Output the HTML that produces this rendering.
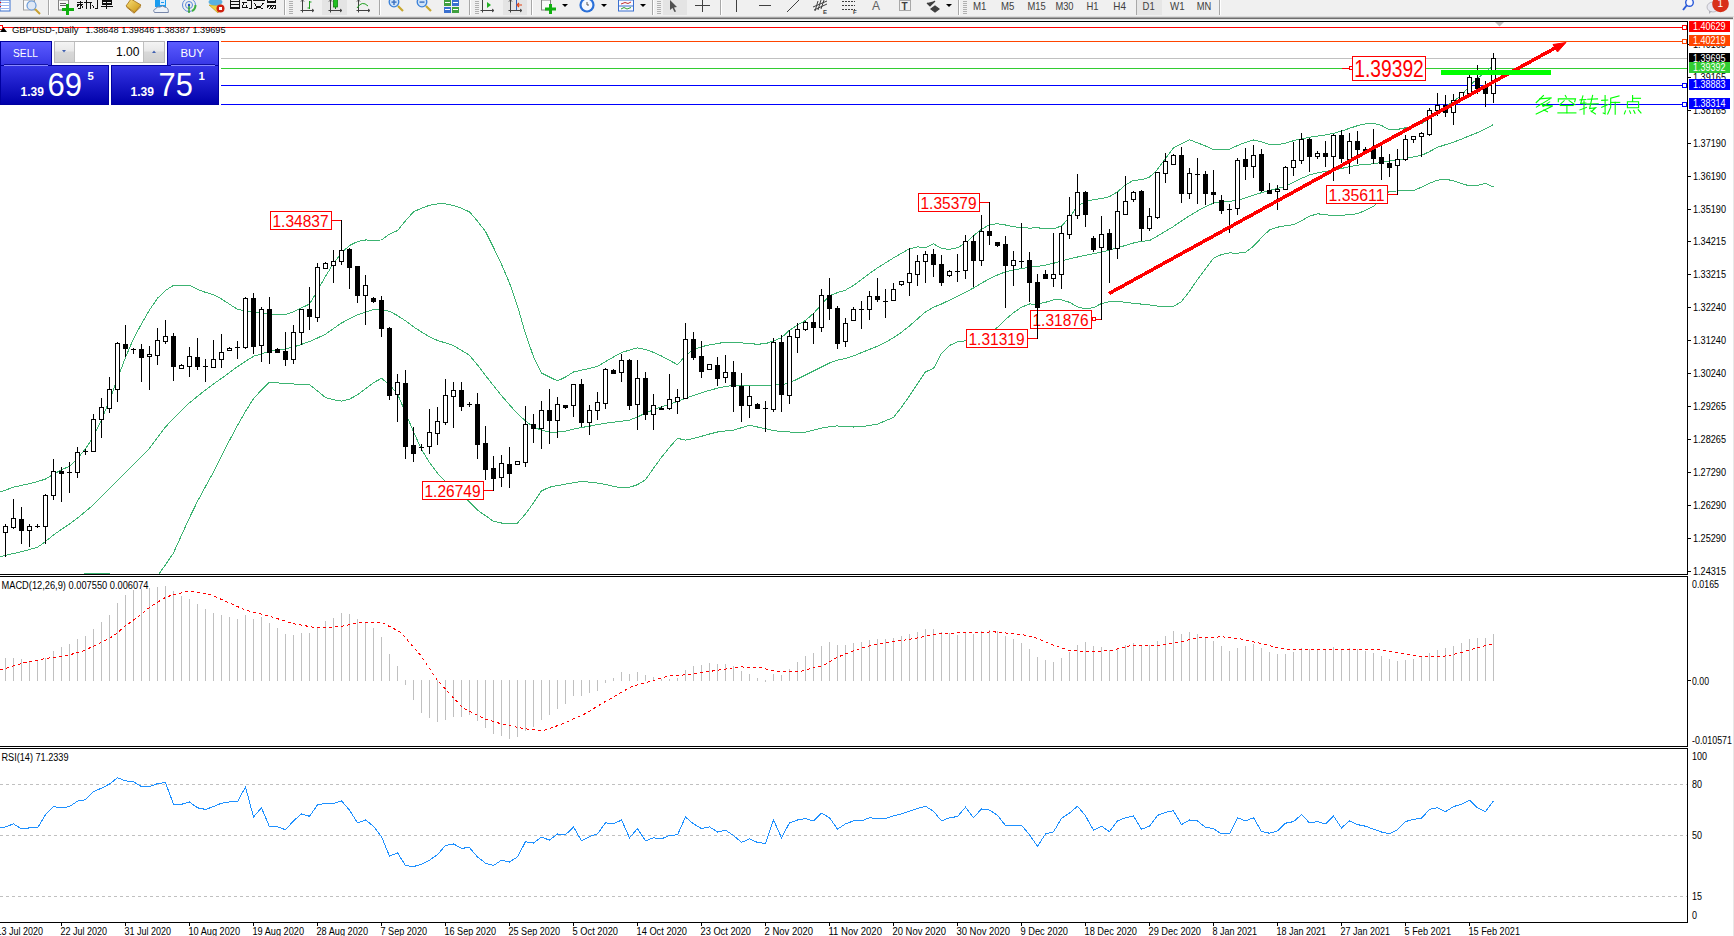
<!DOCTYPE html><html><head><meta charset="utf-8"><style>html,body{margin:0;padding:0;width:1734px;height:936px;overflow:hidden;background:#fff}svg{display:block}text{font-family:"Liberation Sans", sans-serif}</style></head><body>
<svg width="1734" height="936" viewBox="0 0 1734 936">
<rect x="0" y="0" width="1734" height="936" fill="#fff"/>
<g id="toolbar">
<rect x="0" y="0" width="1734" height="17" fill="#f0f0f0"/>
<rect x="0" y="16" width="1734" height="1" fill="#dcdcdc"/>
<rect x="0" y="17" width="1734" height="1" fill="#a4a4a4"/>
<rect x="0" y="18" width="1734" height="1" fill="#6e6e6e"/>
<rect x="0" y="19" width="1734" height="1" fill="#e4e4e4"/>
<g id="tb">
<rect x="48" y="0" width="1" height="15" fill="#a8a8a8"/><rect x="49" y="0" width="1" height="15" fill="#ffffff"/>
<rect x="284" y="0" width="1" height="15" fill="#a8a8a8"/><rect x="285" y="0" width="1" height="15" fill="#ffffff"/>
<rect x="379" y="0" width="1" height="15" fill="#a8a8a8"/><rect x="380" y="0" width="1" height="15" fill="#ffffff"/>
<rect x="469" y="0" width="1" height="15" fill="#a8a8a8"/><rect x="470" y="0" width="1" height="15" fill="#ffffff"/>
<rect x="531" y="0" width="1" height="15" fill="#a8a8a8"/><rect x="532" y="0" width="1" height="15" fill="#ffffff"/>
<rect x="652" y="0" width="1" height="15" fill="#a8a8a8"/><rect x="653" y="0" width="1" height="15" fill="#ffffff"/>
<rect x="663" y="0" width="1" height="15" fill="#a8a8a8"/><rect x="664" y="0" width="1" height="15" fill="#ffffff"/>
<rect x="720" y="0" width="1" height="15" fill="#a8a8a8"/><rect x="721" y="0" width="1" height="15" fill="#ffffff"/>
<rect x="958" y="0" width="1" height="15" fill="#a8a8a8"/><rect x="959" y="0" width="1" height="15" fill="#ffffff"/>
<rect x="1136" y="0" width="1" height="15" fill="#a8a8a8"/><rect x="1137" y="0" width="1" height="15" fill="#ffffff"/>
<rect x="1219" y="0" width="1" height="15" fill="#a8a8a8"/><rect x="1220" y="0" width="1" height="15" fill="#ffffff"/>
<rect x="289" y="1" width="4" height="1" fill="#b0b0b0"/>
<rect x="289" y="3" width="4" height="1" fill="#b0b0b0"/>
<rect x="289" y="5" width="4" height="1" fill="#b0b0b0"/>
<rect x="289" y="7" width="4" height="1" fill="#b0b0b0"/>
<rect x="289" y="9" width="4" height="1" fill="#b0b0b0"/>
<rect x="289" y="11" width="4" height="1" fill="#b0b0b0"/>
<rect x="289" y="13" width="4" height="1" fill="#b0b0b0"/>
<rect x="475" y="1" width="4" height="1" fill="#b0b0b0"/>
<rect x="475" y="3" width="4" height="1" fill="#b0b0b0"/>
<rect x="475" y="5" width="4" height="1" fill="#b0b0b0"/>
<rect x="475" y="7" width="4" height="1" fill="#b0b0b0"/>
<rect x="475" y="9" width="4" height="1" fill="#b0b0b0"/>
<rect x="475" y="11" width="4" height="1" fill="#b0b0b0"/>
<rect x="475" y="13" width="4" height="1" fill="#b0b0b0"/>
<rect x="657" y="1" width="4" height="1" fill="#b0b0b0"/>
<rect x="657" y="3" width="4" height="1" fill="#b0b0b0"/>
<rect x="657" y="5" width="4" height="1" fill="#b0b0b0"/>
<rect x="657" y="7" width="4" height="1" fill="#b0b0b0"/>
<rect x="657" y="9" width="4" height="1" fill="#b0b0b0"/>
<rect x="657" y="11" width="4" height="1" fill="#b0b0b0"/>
<rect x="657" y="13" width="4" height="1" fill="#b0b0b0"/>
<rect x="963" y="1" width="4" height="1" fill="#b0b0b0"/>
<rect x="963" y="3" width="4" height="1" fill="#b0b0b0"/>
<rect x="963" y="5" width="4" height="1" fill="#b0b0b0"/>
<rect x="963" y="7" width="4" height="1" fill="#b0b0b0"/>
<rect x="963" y="9" width="4" height="1" fill="#b0b0b0"/>
<rect x="963" y="11" width="4" height="1" fill="#b0b0b0"/>
<rect x="963" y="13" width="4" height="1" fill="#b0b0b0"/>
<rect x="322" y="0" width="25" height="15" fill="#e4e4e4"/>
<rect x="503" y="0" width="24" height="15" fill="#e4e4e4"/>
<rect x="663" y="0" width="24" height="15" fill="#e4e4e4"/>
<rect x="1137" y="0" width="25" height="15" fill="#e6e6e6"/>
<rect x="0" y="0" width="10" height="11" fill="#fff" stroke="#3a70d0" stroke-width="1"/><rect x="1" y="2" width="8" height="1" fill="#9ab8f0"/><rect x="1" y="5" width="8" height="1" fill="#9ab8f0"/><rect x="1" y="8" width="8" height="1" fill="#9ab8f0"/><rect x="0" y="2" width="1" height="1" fill="#e00"/><rect x="0" y="6" width="1" height="1" fill="#e00"/>
<rect x="23.5" y="0" width="11" height="10" fill="#fafafa" stroke="#a0a0a0"/><circle cx="31.5" cy="5.5" r="4.5" fill="#dfe8f5" stroke="#6a9ad8" stroke-width="1.2"/><line x1="35" y1="9" x2="40" y2="14" stroke="#c8a030" stroke-width="2"/>
<rect x="58.5" y="0" width="10" height="10" fill="#fafafa" stroke="#808080"/><rect x="60" y="3" width="6" height="1" fill="#606060"/><rect x="60" y="5" width="6" height="1" fill="#606060"/><rect x="66" y="4" width="3" height="11" fill="#10b010"/><rect x="62" y="8" width="12" height="3" fill="#10b010"/>
<g stroke="#101010" stroke-width="1" fill="none" shape-rendering="crispEdges"><path d="M77,2.5 H83 M77,4.5 H83 M80.5,1 V9 M78.5,5 L77,7 M81.5,5.5 L83,7.5 M78,8.5 H80.5 M86.5,0 V9 M84,2.5 H92 M90.5,2.5 V9 M92,5 L94,7.5 M97.5,0 V9 M94.5,8.5 H97.5"/><path d="M102.5,0 V5 M111.5,0 V5 M102.5,0.5 H111.5 M102.5,1.5 H111.5 M102.5,3.5 H111.5 M102.5,4.5 H111.5 M106.5,0 V9 M101,6.5 H113"/></g>
<defs><linearGradient id="gbook" x1="0" y1="0" x2="1" y2="1"><stop offset="0" stop-color="#fbe27a"/><stop offset="1" stop-color="#c8900c"/></linearGradient></defs><path d="M126,6 L131,-1 L141,5 L134.5,12.5 Z" fill="url(#gbook)" stroke="#a06c10" stroke-width="0.8"/><path d="M126.5,7 L134,13.2 L141,6.5" fill="none" stroke="#b07818" stroke-width="1"/>
<rect x="155" y="0" width="11" height="7" fill="#1a9cf0"/><rect x="160" y="0" width="5" height="5" fill="#d8ecff"/><rect x="161" y="2" width="3" height="1" fill="#1a9cf0"/><path d="M154.5,12.5 Q152.5,9.5 155.5,9 Q156.5,6 160,7 Q162.5,4.8 165,7.2 Q168.8,7.5 168.3,12.5 Z" fill="#eef2f8" stroke="#6a7aa0" stroke-width="0.9"/>
<circle cx="189" cy="5" r="6.5" fill="none" stroke="#5a88d8" stroke-width="1"/><circle cx="189" cy="5" r="3.5" fill="none" stroke="#5a88d8" stroke-width="1"/><path d="M189,5 L189,13" stroke="#30a030" stroke-width="1.5"/><path d="M192,11 A6.5,6.5 0 0 0 195.5,5" stroke="#40b040" stroke-width="2" fill="none"/><circle cx="189" cy="5" r="1.2" fill="#2050c0"/>
<path d="M209,5 L222,5 L218,13 Z" fill="#f0d040" stroke="#b09010" stroke-width="0.6"/><ellipse cx="215.5" cy="2" rx="7" ry="3.5" fill="#5ab0e0"/><circle cx="220.5" cy="8.5" r="4" fill="#d02010"/><rect x="219" y="7" width="3" height="3" fill="#fff"/>
<g stroke="#101010" stroke-width="1" fill="none" shape-rendering="crispEdges"><path d="M230.5,0 V9 M239.5,0 V9 M231,1.5 H239 M231,4.5 H239 M231,7.5 H239 M231,8.5 H239"/><path d="M241.5,2.5 H247 M243.5,3.5 L242,8 M242,7.5 H247 M246,5.5 L247.5,8 M247,0.5 H252 M251.5,0 V9 M249,8.5 H251.5"/><path d="M253,0.5 H264.5 M254.5,3.5 L256,5 M263.5,3 L262,5 M255,5.5 L263,9 M262.5,5.5 L254,9"/><path d="M267.5,0 V2.5 M275.5,0 V2.5 M267.5,1.5 H275.5 M267.5,2.5 H275.5 M267,5.5 H276 M275.5,5.5 V9 M274,8.5 H275.5 M268.5,6 L266.5,8.5 M271.5,6 L269,9 M274,6 L271.5,9"/></g>
<g stroke="#404040" stroke-width="1" fill="none"><path d="M302.5,0 L302.5,12.5 M300.5,10.5 L313.5,10.5 M312,9 L314,10.5 L312,12 M301,1.5 L302.5,0 L304,1.5"/><path d="M309.5,1 L309.5,9 M309.5,2 L311.5,2 M307.5,8 L309.5,8" stroke="#20a020"/></g>
<g stroke="#404040" stroke-width="1" fill="none"><path d="M330.5,0 L330.5,12.5 M328.5,10.5 L341.5,10.5 M340,9 L342,10.5 L340,12 M329,1.5 L330.5,0 L332,1.5"/></g><rect x="333.5" y="-1" width="4" height="8" fill="#20c020" stroke="#108010" stroke-width="0.8"/><rect x="335" y="7" width="1" height="2" fill="#108010"/>
<g stroke="#404040" stroke-width="1" fill="none"><path d="M358.5,0 L358.5,12.5 M356.5,10.5 L369.5,10.5 M368,9 L370,10.5 L368,12 M357,1.5 L358.5,0 L360,1.5"/><path d="M357,8 Q362,0 368,6" stroke="#20a020"/></g>
<line x1="398" y1="6" x2="403" y2="11" stroke="#c8a830" stroke-width="2.2"/><circle cx="394" cy="2" r="4.8" fill="#cfe3f8" stroke="#3a80d8" stroke-width="1.3"/><rect x="391.5" y="1.4" width="5" height="1.4" fill="#3a70c0"/><rect x="393.3" y="-1" width="1.4" height="6" fill="#3a70c0"/>
<line x1="426" y1="6" x2="431" y2="11" stroke="#c8a830" stroke-width="2.2"/><circle cx="422" cy="2" r="4.8" fill="#cfe3f8" stroke="#3a80d8" stroke-width="1.3"/><rect x="419.5" y="1.4" width="5" height="1.4" fill="#3a70c0"/>
<rect x="444" y="0" width="7" height="6" fill="#40a040"/><rect x="452" y="0" width="7" height="6" fill="#3a70d0"/><rect x="444" y="7" width="7" height="6" fill="#3a70d0"/><rect x="452" y="7" width="7" height="6" fill="#40a040"/><rect x="445" y="9" width="5" height="1" fill="#fff"/><rect x="453" y="9" width="5" height="1" fill="#fff"/><rect x="445" y="2" width="5" height="1" fill="#fff"/><rect x="453" y="2" width="5" height="1" fill="#fff"/>
<g stroke="#404040" stroke-width="1" fill="none"><path d="M482.5,0 L482.5,12.5 M480.5,10.5 L493.5,10.5 M492,9 L494,10.5 L492,12"/></g><path d="M487,2 L491,5 L487,8 Z" fill="#20b020"/>
<g stroke="#404040" stroke-width="1" fill="none"><path d="M510.5,0 L510.5,12.5 M508.5,10.5 L521.5,10.5 M520,9 L522,10.5 L520,12 M509,1.5 L510.5,0 L512,1.5"/><path d="M516.5,0 L516.5,10" stroke="#3060c0"/></g><path d="M522,5 L518,5 M519,3 L517,5 L519,7" stroke="#e04010" stroke-width="1.2" fill="none"/>
<rect x="541.5" y="0" width="9" height="10" fill="#fafafa" stroke="#808080"/><rect x="549" y="4" width="3" height="10" fill="#10b010"/><rect x="545" y="7.5" width="11" height="3" fill="#10b010"/>
<path d="M562,4 L568,4 L565,7 Z" fill="#000"/>
<path d="M601,4 L607,4 L604,7 Z" fill="#000"/>
<path d="M640,4 L646,4 L643,7 Z" fill="#000"/>
<path d="M946,4 L952,4 L949,7 Z" fill="#000"/>
<circle cx="587" cy="5" r="7.6" fill="#2a70d8"/><circle cx="587" cy="5" r="5.4" fill="#f4f8ff"/><path d="M587,2 L587,5 L589,5" stroke="#333" stroke-width="0.8" fill="none"/>
<rect x="618.5" y="0" width="15" height="11" fill="#f8f8ff" stroke="#3a70d0"/><rect x="619" y="5.5" width="14" height="1" fill="#3a70d0"/><path d="M621,4 L625,2.5 L628,3.5 L631,2" stroke="#c03030" stroke-width="1" fill="none"/><path d="M621,9 L624,7.5 L627,9 L631,7.5" stroke="#30a030" stroke-width="1" fill="none"/>
<path d="M670,0 L670,10 L672.5,8 L674.5,12 L676,11.5 L674,7.5 L677,7 Z" fill="#505050"/>
<rect x="695" y="5" width="15" height="1" fill="#404040"/><rect x="702" y="0" width="1" height="12" fill="#404040"/>
<rect x="736" y="0" width="1" height="12" fill="#404040"/>
<rect x="759" y="5" width="12" height="1" fill="#404040"/>
<line x1="787" y1="12" x2="799" y2="0" stroke="#404040" stroke-width="1"/>
<g stroke="#404040" stroke-width="1" fill="none"><path d="M813,7 L827,1 M814,10 L827,4 M818,1 L815,11 M821,0 L818,10 M824,0 L821,9"/></g><text x="823" y="13.5" font-size="6" font-weight="bold" fill="#404040">E</text>
<g fill="#404040"><rect x="842" y="1" width="13" height="1"/><rect x="842" y="5" width="13" height="1"/><rect x="842" y="9" width="13" height="1"/></g><g fill="#f0f0f0"><rect x="844" y="0" width="1" height="11"/><rect x="847" y="0" width="1" height="11"/><rect x="850" y="0" width="1" height="11"/><rect x="853" y="0" width="1" height="11"/></g><text x="853" y="13.5" font-size="6" font-weight="bold" fill="#404040">F</text>
<text x="872" y="10" font-size="12" fill="#606060">A</text>
<rect x="899.5" y="0.5" width="11" height="10" fill="none" stroke="#606060" stroke-dasharray="1,1"/><text x="901.5" y="9.5" font-size="10" font-weight="bold" fill="#404040">T</text>
<path d="M927,3 L930,6 L935,1 M931,9 L935,6 L939,9 L935,12 Z" stroke="#404040" stroke-width="1.2" fill="#404040"/>
<text x="973" y="10" font-size="11" fill="#404040" textLength="13.5" lengthAdjust="spacingAndGlyphs">M1</text>
<text x="1001" y="10" font-size="11" fill="#404040" textLength="13.3" lengthAdjust="spacingAndGlyphs">M5</text>
<text x="1027.5" y="10" font-size="11" fill="#404040" textLength="18.2" lengthAdjust="spacingAndGlyphs">M15</text>
<text x="1055.4" y="10" font-size="11" fill="#404040" textLength="18.1" lengthAdjust="spacingAndGlyphs">M30</text>
<text x="1086.5" y="10" font-size="11" fill="#404040" textLength="12.1" lengthAdjust="spacingAndGlyphs">H1</text>
<text x="1113.3" y="10" font-size="11" fill="#404040" textLength="12.7" lengthAdjust="spacingAndGlyphs">H4</text>
<text x="1142.6" y="10" font-size="11" fill="#404040" textLength="12.1" lengthAdjust="spacingAndGlyphs">D1</text>
<text x="1170" y="10" font-size="11" fill="#404040" textLength="14.6" lengthAdjust="spacingAndGlyphs">W1</text>
<text x="1196.8" y="10" font-size="11" fill="#404040" textLength="14.5" lengthAdjust="spacingAndGlyphs">MN</text>
<circle cx="1689.5" cy="2.5" r="3.8" fill="#f8f8ff" stroke="#2a5ad8" stroke-width="1.4"/><line x1="1687" y1="5" x2="1683" y2="10" stroke="#2a5ad8" stroke-width="2"/>
<ellipse cx="1713" cy="7" rx="6" ry="5" fill="#e8e8f0" stroke="#b0b0b8" stroke-width="0.8"/><path d="M1709,11 L1709,14 L1712,11 Z" fill="#b0b0b8"/>
<circle cx="1720.5" cy="4" r="8.3" fill="#d83018"/><text x="1717.5" y="7" font-size="10" fill="#fff" font-family="Liberation Serif">1</text>
</g>
</g>
<defs><clipPath id="cm"><rect x="0" y="22" width="1687" height="552"/></clipPath><clipPath id="cmacd"><rect x="0" y="577" width="1687" height="169"/></clipPath><clipPath id="crsi"><rect x="0" y="749" width="1687" height="173"/></clipPath></defs>
<g clip-path="url(#cm)" shape-rendering="crispEdges">
<rect x="0" y="27" width="1687" height="1" fill="#ff0000"/>
<rect x="0" y="41" width="1687" height="1" fill="#ff4500"/>
<rect x="0" y="58" width="1687" height="1" fill="#c0c0c0"/>
<rect x="0" y="68" width="1687" height="1" fill="#32cd32"/>
<rect x="0" y="85" width="1687" height="1" fill="#0000ff"/>
<rect x="0" y="104" width="1687" height="1" fill="#0000ff"/>
</g>
<g clip-path="url(#cm)" fill="none" stroke="#3cb371" stroke-width="1" shape-rendering="crispEdges">
<polyline points="0.5,492.0 5.5,490.1 13.5,487.2 21.5,485.4 29.5,483.7 37.5,481.6 45.5,479.1 53.5,474.1 61.5,469.8 69.5,466.3 77.5,458.3 85.5,448.9 93.5,436.4 101.5,419.9 109.5,400.2 117.5,378.8 125.5,357.4 133.5,338.7 141.5,323.8 149.5,310.1 157.5,298.2 165.5,290.4 173.5,285.4 181.5,285.3 189.5,285.3 197.5,289.4 205.5,292.4 213.5,294.6 221.5,299.0 229.5,304.2 237.5,309.4 245.5,310.8 253.5,311.9 261.5,312.9 269.5,313.9 277.5,314.5 285.5,314.5 293.5,311.7 301.5,307.9 309.5,304.1 317.5,290.6 325.5,276.4 333.5,263.3 341.5,252.9 349.5,245.5 357.5,241.6 365.5,240.0 373.5,240.1 381.5,240.0 389.5,234.1 397.5,230.6 405.5,220.8 413.5,211.8 421.5,208.2 429.5,205.3 437.5,203.9 445.5,203.9 453.5,205.4 461.5,208.3 469.5,211.9 477.5,221.2 485.5,231.5 493.5,247.5 501.5,264.2 509.5,282.9 517.5,306.2 525.5,333.7 533.5,356.7 541.5,373.0 549.5,377.0 557.5,380.9 565.5,377.1 573.5,372.0 581.5,370.1 589.5,368.4 597.5,366.3 605.5,361.6 613.5,357.0 621.5,352.6 629.5,350.1 637.5,347.8 645.5,349.5 653.5,352.4 661.5,356.0 669.5,360.3 677.5,364.7 685.5,355.7 693.5,349.5 701.5,346.7 709.5,344.9 717.5,343.5 725.5,342.2 733.5,342.2 741.5,342.8 749.5,343.7 757.5,344.2 765.5,343.7 773.5,340.9 781.5,337.7 789.5,330.2 797.5,325.1 805.5,320.4 813.5,313.4 821.5,304.6 829.5,295.6 837.5,292.6 845.5,290.1 853.5,285.5 861.5,279.5 869.5,273.5 877.5,267.9 885.5,262.9 893.5,257.9 901.5,253.2 909.5,248.8 917.5,246.9 925.5,247.7 933.5,243.8 941.5,248.4 949.5,249.4 957.5,247.8 965.5,243.1 973.5,235.7 981.5,229.3 989.5,224.7 997.5,223.7 1005.5,225.0 1013.5,226.7 1021.5,227.6 1029.5,228.1 1037.5,227.8 1045.5,228.6 1053.5,228.9 1061.5,225.9 1069.5,217.7 1077.5,205.6 1085.5,201.6 1093.5,199.5 1101.5,198.7 1109.5,196.7 1117.5,191.8 1125.5,185.0 1133.5,180.3 1141.5,179.8 1149.5,177.2 1157.5,169.3 1165.5,158.6 1173.5,147.8 1181.5,143.8 1189.5,139.8 1197.5,142.8 1205.5,146.0 1213.5,149.6 1221.5,149.8 1229.5,149.2 1237.5,145.5 1245.5,142.4 1253.5,140.0 1261.5,141.7 1269.5,144.5 1277.5,144.8 1285.5,143.1 1293.5,140.7 1301.5,138.8 1309.5,137.3 1317.5,136.1 1325.5,134.9 1333.5,133.4 1341.5,131.1 1349.5,128.3 1357.5,125.7 1365.5,123.8 1373.5,123.2 1381.5,125.5 1389.5,130.0 1397.5,129.4 1405.5,127.8 1413.5,125.9 1421.5,123.5 1429.5,119.2 1437.5,112.3 1445.5,106.5 1453.5,101.4 1461.5,95.2 1469.5,86.1 1477.5,78.3 1485.5,72.4 1493.5,64.4"/>
<polyline points="0.5,556.5 5.5,555.4 13.5,553.5 21.5,551.7 29.5,549.5 37.5,547.3 45.5,541.5 53.5,534.9 61.5,529.4 69.5,524.0 77.5,518.1 85.5,511.5 93.5,504.8 101.5,496.8 109.5,488.8 117.5,480.8 125.5,472.8 133.5,464.8 141.5,456.8 149.5,448.3 157.5,437.6 165.5,427.0 173.5,418.4 181.5,410.4 189.5,402.8 197.5,396.3 205.5,389.9 213.5,384.0 221.5,378.4 229.5,372.6 237.5,366.6 245.5,361.3 253.5,356.3 261.5,353.8 269.5,351.4 277.5,350.0 285.5,348.9 293.5,347.0 301.5,344.4 309.5,341.5 317.5,338.0 325.5,334.2 333.5,328.6 341.5,323.0 349.5,318.9 357.5,314.9 365.5,312.0 373.5,309.7 381.5,310.0 389.5,311.2 397.5,315.6 405.5,320.8 413.5,326.8 421.5,332.0 429.5,336.7 437.5,340.5 445.5,342.9 453.5,345.6 461.5,350.4 469.5,355.3 477.5,365.0 485.5,375.5 493.5,385.6 501.5,395.6 509.5,404.8 517.5,413.8 525.5,420.8 533.5,427.2 541.5,430.1 549.5,432.1 557.5,432.1 565.5,431.1 573.5,429.1 581.5,427.5 589.5,426.2 597.5,424.6 605.5,423.2 613.5,422.2 621.5,421.2 629.5,420.1 637.5,417.0 645.5,413.0 653.5,409.8 661.5,406.7 669.5,404.3 677.5,401.5 685.5,398.3 693.5,395.4 701.5,392.7 709.5,390.4 717.5,388.2 725.5,386.4 733.5,385.4 741.5,385.1 749.5,385.1 757.5,385.5 765.5,385.6 773.5,384.9 781.5,384.9 789.5,382.9 797.5,379.0 805.5,375.0 813.5,371.0 821.5,367.0 829.5,363.0 837.5,360.2 845.5,358.5 853.5,355.9 861.5,352.6 869.5,349.4 877.5,346.2 885.5,342.2 893.5,337.8 901.5,332.2 909.5,325.9 917.5,318.9 925.5,312.0 933.5,307.2 941.5,304.0 949.5,300.1 957.5,296.1 965.5,292.2 973.5,288.0 981.5,283.2 989.5,278.7 997.5,275.0 1005.5,271.8 1013.5,269.9 1021.5,268.5 1029.5,267.3 1037.5,266.5 1045.5,265.1 1053.5,263.3 1061.5,261.0 1069.5,258.9 1077.5,257.0 1085.5,255.4 1093.5,253.8 1101.5,252.2 1109.5,250.1 1117.5,247.8 1125.5,245.4 1133.5,243.0 1141.5,241.3 1149.5,240.6 1157.5,236.1 1165.5,231.3 1173.5,226.5 1181.5,221.0 1189.5,215.7 1197.5,211.0 1205.5,206.7 1213.5,203.1 1221.5,202.0 1229.5,201.2 1237.5,200.6 1245.5,197.7 1253.5,195.1 1261.5,192.7 1269.5,190.3 1277.5,188.3 1285.5,186.4 1293.5,182.4 1301.5,178.4 1309.5,174.9 1317.5,172.9 1325.5,171.4 1333.5,170.1 1341.5,168.5 1349.5,166.6 1357.5,165.1 1365.5,164.6 1373.5,163.8 1381.5,162.4 1389.5,161.0 1397.5,160.0 1405.5,158.7 1413.5,156.8 1421.5,155.4 1429.5,151.6 1437.5,147.3 1445.5,144.7 1453.5,142.2 1461.5,139.1 1469.5,135.8 1477.5,132.6 1485.5,128.9 1493.5,124.5"/>
<polyline points="0.5,620.5 5.5,617.0 13.5,611.4 21.5,605.8 29.5,600.2 37.5,594.6 45.5,590.5 53.5,587.2 61.5,584.0 69.5,580.8 77.5,577.5 85.5,573.5 93.5,573.5 101.5,573.5 109.5,573.5 117.5,580.8 125.5,586.8 133.5,588.9 141.5,584.6 149.5,580.3 157.5,576.0 165.5,564.7 173.5,553.0 181.5,535.1 189.5,517.7 197.5,501.3 205.5,486.5 213.5,472.1 221.5,456.3 229.5,440.4 237.5,425.3 245.5,411.4 253.5,398.7 261.5,390.0 269.5,382.1 277.5,382.9 285.5,383.6 293.5,384.0 301.5,384.4 309.5,384.8 317.5,390.9 325.5,397.5 333.5,399.8 341.5,401.1 349.5,399.2 357.5,394.7 365.5,388.7 373.5,382.7 381.5,378.3 389.5,384.7 397.5,394.1 405.5,412.6 413.5,431.8 421.5,449.3 429.5,462.6 437.5,473.3 445.5,481.6 453.5,488.0 461.5,494.3 469.5,502.0 477.5,510.1 485.5,515.7 493.5,521.3 501.5,523.0 509.5,523.0 517.5,523.0 525.5,513.9 533.5,502.9 541.5,490.9 549.5,487.2 557.5,485.6 565.5,484.1 573.5,482.8 581.5,481.5 589.5,482.1 597.5,483.1 605.5,484.5 613.5,486.4 621.5,487.9 629.5,487.3 637.5,484.7 645.5,479.8 653.5,468.3 661.5,457.3 669.5,447.4 677.5,438.3 685.5,440.2 693.5,438.5 701.5,436.3 709.5,434.0 717.5,432.0 725.5,431.0 733.5,430.1 741.5,427.7 749.5,425.3 757.5,427.0 765.5,428.7 773.5,430.7 781.5,431.4 789.5,432.0 797.5,432.6 805.5,432.1 813.5,430.1 821.5,428.1 829.5,426.7 837.5,425.9 845.5,426.9 853.5,427.0 861.5,426.6 869.5,425.5 877.5,424.1 885.5,420.8 893.5,417.4 901.5,407.2 909.5,395.8 917.5,383.8 925.5,371.9 933.5,368.5 941.5,353.4 949.5,345.5 957.5,341.8 965.5,340.8 973.5,338.7 981.5,336.4 989.5,333.1 997.5,327.4 1005.5,319.4 1013.5,312.7 1021.5,307.2 1029.5,304.0 1037.5,304.1 1045.5,302.3 1053.5,299.8 1061.5,299.8 1069.5,302.3 1077.5,306.9 1085.5,308.7 1093.5,307.7 1101.5,303.5 1109.5,301.7 1117.5,301.4 1125.5,302.3 1133.5,303.3 1141.5,304.1 1149.5,305.0 1157.5,306.1 1165.5,306.7 1173.5,306.3 1181.5,301.6 1189.5,291.2 1197.5,279.6 1205.5,268.8 1213.5,258.2 1221.5,254.5 1229.5,252.9 1237.5,253.2 1245.5,252.4 1253.5,246.1 1261.5,237.7 1269.5,229.9 1277.5,227.2 1285.5,225.7 1293.5,224.7 1301.5,220.8 1309.5,216.2 1317.5,213.8 1325.5,214.6 1333.5,215.9 1341.5,215.3 1349.5,214.6 1357.5,213.8 1365.5,210.3 1373.5,206.2 1381.5,199.0 1389.5,191.1 1397.5,191.0 1405.5,190.9 1413.5,190.8 1421.5,187.1 1429.5,183.2 1437.5,180.2 1445.5,179.1 1453.5,180.9 1461.5,183.5 1469.5,185.9 1477.5,185.4 1485.5,183.5 1493.5,187.0"/>
</g>
<g clip-path="url(#cm)">
<g shape-rendering="crispEdges" fill="#ff0000">
<rect x="332" y="220" width="10" height="1"/><rect x="341" y="220" width="1" height="29"/>
<rect x="484" y="490" width="10" height="1"/>
<rect x="980" y="202" width="10" height="1"/>
<rect x="1028" y="338" width="10" height="1"/>
<rect x="1092" y="319" width="10" height="1"/>
<rect x="1388" y="194" width="10" height="1"/>
<rect x="1342" y="68" width="7" height="1"/>
</g>
<rect x="1349.5" y="66.5" width="3" height="3" fill="#fff" stroke="#ff0000" stroke-width="1" shape-rendering="crispEdges"/>
<rect x="1092.5" y="317.5" width="3" height="3" fill="#fff" stroke="#ff0000" stroke-width="1" shape-rendering="crispEdges"/>
<rect x="270.5" y="211.5" width="61" height="18" fill="#fff" stroke="#ff0000" stroke-width="1" shape-rendering="crispEdges"/>
<text x="272.5" y="226.5" font-size="16" fill="#ff0000" textLength="56" lengthAdjust="spacingAndGlyphs">1.34837</text>
<rect x="422.5" y="481.5" width="61" height="18" fill="#fff" stroke="#ff0000" stroke-width="1" shape-rendering="crispEdges"/>
<text x="424.5" y="496.5" font-size="16" fill="#ff0000" textLength="56" lengthAdjust="spacingAndGlyphs">1.26749</text>
<rect x="918.5" y="193.5" width="61" height="18" fill="#fff" stroke="#ff0000" stroke-width="1" shape-rendering="crispEdges"/>
<text x="920.5" y="208.5" font-size="16" fill="#ff0000" textLength="56" lengthAdjust="spacingAndGlyphs">1.35379</text>
<rect x="966.5" y="329.5" width="61" height="18" fill="#fff" stroke="#ff0000" stroke-width="1" shape-rendering="crispEdges"/>
<text x="968.5" y="344.5" font-size="16" fill="#ff0000" textLength="56" lengthAdjust="spacingAndGlyphs">1.31319</text>
<rect x="1030.5" y="310.5" width="61" height="18" fill="#fff" stroke="#ff0000" stroke-width="1" shape-rendering="crispEdges"/>
<text x="1032.5" y="325.5" font-size="16" fill="#ff0000" textLength="56" lengthAdjust="spacingAndGlyphs">1.31876</text>
<rect x="1326.5" y="185.5" width="61" height="18" fill="#fff" stroke="#ff0000" stroke-width="1" shape-rendering="crispEdges"/>
<text x="1328.5" y="200.5" font-size="16" fill="#ff0000" textLength="56" lengthAdjust="spacingAndGlyphs">1.35611</text>
<rect x="1352.5" y="56.5" width="73" height="24" fill="#fff" stroke="#ff0000" stroke-width="1" shape-rendering="crispEdges"/>
<text x="1354.3" y="77" font-size="23" fill="#ff0000" textLength="69.5" lengthAdjust="spacingAndGlyphs">1.39392</text>
</g>
<g clip-path="url(#cm)" shape-rendering="crispEdges">
<rect x="5" y="524" width="1" height="33" fill="#000"/>
<rect x="3" y="526" width="5" height="7" fill="#000"/>
<rect x="4" y="527" width="3" height="5" fill="#fff"/>
<rect x="13" y="499" width="1" height="30" fill="#000"/>
<rect x="11" y="518" width="5" height="10" fill="#000"/>
<rect x="12" y="519" width="3" height="8" fill="#fff"/>
<rect x="21" y="507" width="1" height="37" fill="#000"/>
<rect x="19" y="519" width="5" height="12" fill="#000"/>
<rect x="29" y="524" width="1" height="23" fill="#000"/>
<rect x="27" y="526" width="5" height="5" fill="#000"/>
<rect x="28" y="527" width="3" height="3" fill="#fff"/>
<rect x="37" y="524" width="1" height="4" fill="#000"/>
<rect x="35" y="526" width="5" height="1" fill="#000"/>
<rect x="45" y="494" width="1" height="50" fill="#000"/>
<rect x="43" y="495" width="5" height="32" fill="#000"/>
<rect x="44" y="496" width="3" height="30" fill="#fff"/>
<rect x="53" y="459" width="1" height="41" fill="#000"/>
<rect x="51" y="471" width="5" height="25" fill="#000"/>
<rect x="52" y="472" width="3" height="23" fill="#fff"/>
<rect x="61" y="467" width="1" height="35" fill="#000"/>
<rect x="59" y="471" width="5" height="3" fill="#000"/>
<rect x="69" y="462" width="1" height="31" fill="#000"/>
<rect x="67" y="472" width="5" height="1" fill="#000"/>
<rect x="77" y="447" width="1" height="31" fill="#000"/>
<rect x="75" y="452" width="5" height="21" fill="#000"/>
<rect x="76" y="453" width="3" height="19" fill="#fff"/>
<rect x="85" y="449" width="1" height="6" fill="#000"/>
<rect x="83" y="451" width="5" height="1" fill="#000"/>
<rect x="93" y="414" width="1" height="38" fill="#000"/>
<rect x="91" y="419" width="5" height="33" fill="#000"/>
<rect x="92" y="420" width="3" height="31" fill="#fff"/>
<rect x="101" y="398" width="1" height="40" fill="#000"/>
<rect x="99" y="407" width="5" height="13" fill="#000"/>
<rect x="100" y="408" width="3" height="11" fill="#fff"/>
<rect x="109" y="377" width="1" height="36" fill="#000"/>
<rect x="107" y="389" width="5" height="20" fill="#000"/>
<rect x="108" y="390" width="3" height="18" fill="#fff"/>
<rect x="117" y="342" width="1" height="60" fill="#000"/>
<rect x="115" y="343" width="5" height="47" fill="#000"/>
<rect x="116" y="344" width="3" height="45" fill="#fff"/>
<rect x="125" y="325" width="1" height="32" fill="#000"/>
<rect x="123" y="344" width="5" height="5" fill="#000"/>
<rect x="133" y="348" width="1" height="6" fill="#000"/>
<rect x="131" y="349" width="5" height="1" fill="#000"/>
<rect x="141" y="344" width="1" height="38" fill="#000"/>
<rect x="139" y="349" width="5" height="9" fill="#000"/>
<rect x="149" y="346" width="1" height="44" fill="#000"/>
<rect x="147" y="354" width="5" height="3" fill="#000"/>
<rect x="148" y="355" width="3" height="1" fill="#fff"/>
<rect x="157" y="328" width="1" height="37" fill="#000"/>
<rect x="155" y="340" width="5" height="16" fill="#000"/>
<rect x="156" y="341" width="3" height="14" fill="#fff"/>
<rect x="165" y="320" width="1" height="24" fill="#000"/>
<rect x="163" y="336" width="5" height="6" fill="#000"/>
<rect x="164" y="337" width="3" height="4" fill="#fff"/>
<rect x="173" y="333" width="1" height="48" fill="#000"/>
<rect x="171" y="336" width="5" height="31" fill="#000"/>
<rect x="181" y="364" width="1" height="5" fill="#000"/>
<rect x="179" y="365" width="5" height="4" fill="#000"/>
<rect x="180" y="366" width="3" height="2" fill="#fff"/>
<rect x="189" y="347" width="1" height="30" fill="#000"/>
<rect x="187" y="356" width="5" height="11" fill="#000"/>
<rect x="188" y="357" width="3" height="9" fill="#fff"/>
<rect x="197" y="338" width="1" height="32" fill="#000"/>
<rect x="195" y="357" width="5" height="10" fill="#000"/>
<rect x="205" y="359" width="1" height="23" fill="#000"/>
<rect x="203" y="366" width="5" height="1" fill="#000"/>
<rect x="213" y="340" width="1" height="28" fill="#000"/>
<rect x="211" y="359" width="5" height="9" fill="#000"/>
<rect x="212" y="360" width="3" height="7" fill="#fff"/>
<rect x="221" y="334" width="1" height="34" fill="#000"/>
<rect x="219" y="352" width="5" height="8" fill="#000"/>
<rect x="220" y="353" width="3" height="6" fill="#fff"/>
<rect x="229" y="347" width="1" height="4" fill="#000"/>
<rect x="227" y="348" width="5" height="3" fill="#000"/>
<rect x="228" y="349" width="3" height="1" fill="#fff"/>
<rect x="237" y="341" width="1" height="18" fill="#000"/>
<rect x="235" y="347" width="5" height="1" fill="#000"/>
<rect x="245" y="297" width="1" height="52" fill="#000"/>
<rect x="243" y="298" width="5" height="50" fill="#000"/>
<rect x="244" y="299" width="3" height="48" fill="#fff"/>
<rect x="253" y="293" width="1" height="61" fill="#000"/>
<rect x="251" y="298" width="5" height="49" fill="#000"/>
<rect x="261" y="307" width="1" height="55" fill="#000"/>
<rect x="259" y="309" width="5" height="37" fill="#000"/>
<rect x="260" y="310" width="3" height="35" fill="#fff"/>
<rect x="269" y="297" width="1" height="67" fill="#000"/>
<rect x="267" y="309" width="5" height="44" fill="#000"/>
<rect x="277" y="348" width="1" height="5" fill="#000"/>
<rect x="275" y="349" width="5" height="4" fill="#000"/>
<rect x="285" y="332" width="1" height="34" fill="#000"/>
<rect x="283" y="351" width="5" height="9" fill="#000"/>
<rect x="293" y="325" width="1" height="39" fill="#000"/>
<rect x="291" y="332" width="5" height="28" fill="#000"/>
<rect x="292" y="333" width="3" height="26" fill="#fff"/>
<rect x="301" y="309" width="1" height="36" fill="#000"/>
<rect x="299" y="309" width="5" height="24" fill="#000"/>
<rect x="300" y="310" width="3" height="22" fill="#fff"/>
<rect x="309" y="287" width="1" height="43" fill="#000"/>
<rect x="307" y="309" width="5" height="8" fill="#000"/>
<rect x="317" y="263" width="1" height="59" fill="#000"/>
<rect x="315" y="267" width="5" height="51" fill="#000"/>
<rect x="316" y="268" width="3" height="49" fill="#fff"/>
<rect x="325" y="262" width="1" height="7" fill="#000"/>
<rect x="323" y="263" width="5" height="6" fill="#000"/>
<rect x="324" y="264" width="3" height="4" fill="#fff"/>
<rect x="333" y="250" width="1" height="33" fill="#000"/>
<rect x="331" y="261" width="5" height="5" fill="#000"/>
<rect x="332" y="262" width="3" height="3" fill="#fff"/>
<rect x="341" y="220" width="1" height="45" fill="#000"/>
<rect x="339" y="250" width="5" height="12" fill="#000"/>
<rect x="340" y="251" width="3" height="10" fill="#fff"/>
<rect x="349" y="248" width="1" height="41" fill="#000"/>
<rect x="347" y="249" width="5" height="19" fill="#000"/>
<rect x="357" y="266" width="1" height="37" fill="#000"/>
<rect x="355" y="266" width="5" height="30" fill="#000"/>
<rect x="365" y="275" width="1" height="50" fill="#000"/>
<rect x="363" y="285" width="5" height="11" fill="#000"/>
<rect x="364" y="286" width="3" height="9" fill="#fff"/>
<rect x="373" y="297" width="1" height="6" fill="#000"/>
<rect x="371" y="298" width="5" height="4" fill="#000"/>
<rect x="381" y="296" width="1" height="41" fill="#000"/>
<rect x="379" y="300" width="5" height="29" fill="#000"/>
<rect x="389" y="327" width="1" height="73" fill="#000"/>
<rect x="387" y="328" width="5" height="68" fill="#000"/>
<rect x="397" y="374" width="1" height="48" fill="#000"/>
<rect x="395" y="382" width="5" height="13" fill="#000"/>
<rect x="396" y="383" width="3" height="11" fill="#fff"/>
<rect x="405" y="370" width="1" height="89" fill="#000"/>
<rect x="403" y="383" width="5" height="64" fill="#000"/>
<rect x="413" y="427" width="1" height="35" fill="#000"/>
<rect x="411" y="445" width="5" height="9" fill="#000"/>
<rect x="421" y="444" width="1" height="7" fill="#000"/>
<rect x="419" y="447" width="5" height="1" fill="#000"/>
<rect x="429" y="409" width="1" height="45" fill="#000"/>
<rect x="427" y="432" width="5" height="15" fill="#000"/>
<rect x="428" y="433" width="3" height="13" fill="#fff"/>
<rect x="437" y="407" width="1" height="38" fill="#000"/>
<rect x="435" y="421" width="5" height="13" fill="#000"/>
<rect x="436" y="422" width="3" height="11" fill="#fff"/>
<rect x="445" y="379" width="1" height="46" fill="#000"/>
<rect x="443" y="395" width="5" height="28" fill="#000"/>
<rect x="444" y="396" width="3" height="26" fill="#fff"/>
<rect x="453" y="382" width="1" height="46" fill="#000"/>
<rect x="451" y="390" width="5" height="7" fill="#000"/>
<rect x="452" y="391" width="3" height="5" fill="#fff"/>
<rect x="461" y="382" width="1" height="29" fill="#000"/>
<rect x="459" y="390" width="5" height="17" fill="#000"/>
<rect x="469" y="402" width="1" height="5" fill="#000"/>
<rect x="467" y="404" width="5" height="1" fill="#000"/>
<rect x="477" y="393" width="1" height="66" fill="#000"/>
<rect x="475" y="404" width="5" height="41" fill="#000"/>
<rect x="485" y="426" width="1" height="54" fill="#000"/>
<rect x="483" y="443" width="5" height="27" fill="#000"/>
<rect x="493" y="456" width="1" height="35" fill="#000"/>
<rect x="491" y="468" width="5" height="11" fill="#000"/>
<rect x="501" y="455" width="1" height="32" fill="#000"/>
<rect x="499" y="463" width="5" height="15" fill="#000"/>
<rect x="500" y="464" width="3" height="13" fill="#fff"/>
<rect x="509" y="447" width="1" height="41" fill="#000"/>
<rect x="507" y="464" width="5" height="10" fill="#000"/>
<rect x="517" y="461" width="1" height="4" fill="#000"/>
<rect x="515" y="461" width="5" height="4" fill="#000"/>
<rect x="516" y="462" width="3" height="2" fill="#fff"/>
<rect x="525" y="406" width="1" height="61" fill="#000"/>
<rect x="523" y="424" width="5" height="39" fill="#000"/>
<rect x="524" y="425" width="3" height="37" fill="#fff"/>
<rect x="533" y="414" width="1" height="29" fill="#000"/>
<rect x="531" y="424" width="5" height="5" fill="#000"/>
<rect x="541" y="401" width="1" height="48" fill="#000"/>
<rect x="539" y="410" width="5" height="19" fill="#000"/>
<rect x="540" y="411" width="3" height="17" fill="#fff"/>
<rect x="549" y="389" width="1" height="55" fill="#000"/>
<rect x="547" y="410" width="5" height="11" fill="#000"/>
<rect x="557" y="397" width="1" height="41" fill="#000"/>
<rect x="555" y="404" width="5" height="17" fill="#000"/>
<rect x="556" y="405" width="3" height="15" fill="#fff"/>
<rect x="565" y="405" width="1" height="4" fill="#000"/>
<rect x="563" y="405" width="5" height="3" fill="#000"/>
<rect x="573" y="384" width="1" height="33" fill="#000"/>
<rect x="571" y="384" width="5" height="22" fill="#000"/>
<rect x="572" y="385" width="3" height="20" fill="#fff"/>
<rect x="581" y="379" width="1" height="48" fill="#000"/>
<rect x="579" y="384" width="5" height="39" fill="#000"/>
<rect x="589" y="405" width="1" height="30" fill="#000"/>
<rect x="587" y="410" width="5" height="13" fill="#000"/>
<rect x="588" y="411" width="3" height="11" fill="#fff"/>
<rect x="597" y="392" width="1" height="28" fill="#000"/>
<rect x="595" y="402" width="5" height="9" fill="#000"/>
<rect x="596" y="403" width="3" height="7" fill="#fff"/>
<rect x="605" y="368" width="1" height="41" fill="#000"/>
<rect x="603" y="369" width="5" height="35" fill="#000"/>
<rect x="604" y="370" width="3" height="33" fill="#fff"/>
<rect x="613" y="369" width="1" height="5" fill="#000"/>
<rect x="611" y="370" width="5" height="4" fill="#000"/>
<rect x="621" y="354" width="1" height="28" fill="#000"/>
<rect x="619" y="360" width="5" height="13" fill="#000"/>
<rect x="620" y="361" width="3" height="11" fill="#fff"/>
<rect x="629" y="359" width="1" height="51" fill="#000"/>
<rect x="627" y="360" width="5" height="46" fill="#000"/>
<rect x="637" y="360" width="1" height="70" fill="#000"/>
<rect x="635" y="378" width="5" height="27" fill="#000"/>
<rect x="636" y="379" width="3" height="25" fill="#fff"/>
<rect x="645" y="372" width="1" height="48" fill="#000"/>
<rect x="643" y="378" width="5" height="37" fill="#000"/>
<rect x="653" y="394" width="1" height="36" fill="#000"/>
<rect x="651" y="405" width="5" height="10" fill="#000"/>
<rect x="652" y="406" width="3" height="8" fill="#fff"/>
<rect x="661" y="406" width="1" height="4" fill="#000"/>
<rect x="659" y="408" width="5" height="2" fill="#000"/>
<rect x="669" y="374" width="1" height="36" fill="#000"/>
<rect x="667" y="399" width="5" height="10" fill="#000"/>
<rect x="668" y="400" width="3" height="8" fill="#fff"/>
<rect x="677" y="389" width="1" height="25" fill="#000"/>
<rect x="675" y="397" width="5" height="5" fill="#000"/>
<rect x="676" y="398" width="3" height="3" fill="#fff"/>
<rect x="685" y="323" width="1" height="76" fill="#000"/>
<rect x="683" y="339" width="5" height="60" fill="#000"/>
<rect x="684" y="340" width="3" height="58" fill="#fff"/>
<rect x="693" y="332" width="1" height="28" fill="#000"/>
<rect x="691" y="339" width="5" height="19" fill="#000"/>
<rect x="701" y="341" width="1" height="37" fill="#000"/>
<rect x="699" y="356" width="5" height="16" fill="#000"/>
<rect x="709" y="364" width="1" height="6" fill="#000"/>
<rect x="707" y="364" width="5" height="6" fill="#000"/>
<rect x="708" y="365" width="3" height="4" fill="#fff"/>
<rect x="717" y="357" width="1" height="29" fill="#000"/>
<rect x="715" y="365" width="5" height="14" fill="#000"/>
<rect x="725" y="355" width="1" height="28" fill="#000"/>
<rect x="723" y="372" width="5" height="6" fill="#000"/>
<rect x="724" y="373" width="3" height="4" fill="#fff"/>
<rect x="733" y="361" width="1" height="51" fill="#000"/>
<rect x="731" y="372" width="5" height="15" fill="#000"/>
<rect x="741" y="373" width="1" height="49" fill="#000"/>
<rect x="739" y="386" width="5" height="20" fill="#000"/>
<rect x="749" y="386" width="1" height="32" fill="#000"/>
<rect x="747" y="396" width="5" height="10" fill="#000"/>
<rect x="748" y="397" width="3" height="8" fill="#fff"/>
<rect x="757" y="403" width="1" height="6" fill="#000"/>
<rect x="755" y="404" width="5" height="5" fill="#000"/>
<rect x="765" y="401" width="1" height="31" fill="#000"/>
<rect x="763" y="408" width="5" height="1" fill="#000"/>
<rect x="773" y="338" width="1" height="74" fill="#000"/>
<rect x="771" y="342" width="5" height="68" fill="#000"/>
<rect x="772" y="343" width="3" height="66" fill="#fff"/>
<rect x="781" y="335" width="1" height="77" fill="#000"/>
<rect x="779" y="342" width="5" height="53" fill="#000"/>
<rect x="789" y="330" width="1" height="74" fill="#000"/>
<rect x="787" y="336" width="5" height="60" fill="#000"/>
<rect x="788" y="337" width="3" height="58" fill="#fff"/>
<rect x="797" y="323" width="1" height="30" fill="#000"/>
<rect x="795" y="329" width="5" height="9" fill="#000"/>
<rect x="796" y="330" width="3" height="7" fill="#fff"/>
<rect x="805" y="321" width="1" height="10" fill="#000"/>
<rect x="803" y="322" width="5" height="8" fill="#000"/>
<rect x="804" y="323" width="3" height="6" fill="#fff"/>
<rect x="813" y="313" width="1" height="31" fill="#000"/>
<rect x="811" y="322" width="5" height="6" fill="#000"/>
<rect x="821" y="289" width="1" height="43" fill="#000"/>
<rect x="819" y="295" width="5" height="33" fill="#000"/>
<rect x="820" y="296" width="3" height="31" fill="#fff"/>
<rect x="829" y="278" width="1" height="42" fill="#000"/>
<rect x="827" y="295" width="5" height="14" fill="#000"/>
<rect x="837" y="306" width="1" height="43" fill="#000"/>
<rect x="835" y="308" width="5" height="36" fill="#000"/>
<rect x="845" y="318" width="1" height="29" fill="#000"/>
<rect x="843" y="323" width="5" height="19" fill="#000"/>
<rect x="844" y="324" width="3" height="17" fill="#fff"/>
<rect x="853" y="307" width="1" height="14" fill="#000"/>
<rect x="851" y="309" width="5" height="12" fill="#000"/>
<rect x="852" y="310" width="3" height="10" fill="#fff"/>
<rect x="861" y="301" width="1" height="28" fill="#000"/>
<rect x="859" y="309" width="5" height="1" fill="#000"/>
<rect x="869" y="291" width="1" height="29" fill="#000"/>
<rect x="867" y="296" width="5" height="14" fill="#000"/>
<rect x="868" y="297" width="3" height="12" fill="#fff"/>
<rect x="877" y="278" width="1" height="24" fill="#000"/>
<rect x="875" y="296" width="5" height="4" fill="#000"/>
<rect x="885" y="289" width="1" height="29" fill="#000"/>
<rect x="883" y="301" width="5" height="1" fill="#000"/>
<rect x="893" y="283" width="1" height="18" fill="#000"/>
<rect x="891" y="289" width="5" height="12" fill="#000"/>
<rect x="892" y="290" width="3" height="10" fill="#fff"/>
<rect x="901" y="281" width="1" height="5" fill="#000"/>
<rect x="899" y="281" width="5" height="4" fill="#000"/>
<rect x="900" y="282" width="3" height="2" fill="#fff"/>
<rect x="909" y="248" width="1" height="48" fill="#000"/>
<rect x="907" y="273" width="5" height="10" fill="#000"/>
<rect x="908" y="274" width="3" height="8" fill="#fff"/>
<rect x="917" y="255" width="1" height="31" fill="#000"/>
<rect x="915" y="261" width="5" height="14" fill="#000"/>
<rect x="916" y="262" width="3" height="12" fill="#fff"/>
<rect x="925" y="251" width="1" height="32" fill="#000"/>
<rect x="923" y="254" width="5" height="8" fill="#000"/>
<rect x="924" y="255" width="3" height="6" fill="#fff"/>
<rect x="933" y="249" width="1" height="28" fill="#000"/>
<rect x="931" y="254" width="5" height="11" fill="#000"/>
<rect x="941" y="255" width="1" height="31" fill="#000"/>
<rect x="939" y="264" width="5" height="19" fill="#000"/>
<rect x="949" y="270" width="1" height="7" fill="#000"/>
<rect x="947" y="271" width="5" height="5" fill="#000"/>
<rect x="948" y="272" width="3" height="3" fill="#fff"/>
<rect x="957" y="254" width="1" height="28" fill="#000"/>
<rect x="955" y="271" width="5" height="1" fill="#000"/>
<rect x="965" y="235" width="1" height="44" fill="#000"/>
<rect x="963" y="241" width="5" height="30" fill="#000"/>
<rect x="964" y="242" width="3" height="28" fill="#fff"/>
<rect x="973" y="235" width="1" height="52" fill="#000"/>
<rect x="971" y="241" width="5" height="20" fill="#000"/>
<rect x="981" y="215" width="1" height="51" fill="#000"/>
<rect x="979" y="231" width="5" height="30" fill="#000"/>
<rect x="980" y="232" width="3" height="28" fill="#fff"/>
<rect x="989" y="202" width="1" height="43" fill="#000"/>
<rect x="987" y="231" width="5" height="5" fill="#000"/>
<rect x="997" y="242" width="1" height="5" fill="#000"/>
<rect x="995" y="242" width="5" height="4" fill="#000"/>
<rect x="1005" y="236" width="1" height="72" fill="#000"/>
<rect x="1003" y="244" width="5" height="22" fill="#000"/>
<rect x="1013" y="251" width="1" height="35" fill="#000"/>
<rect x="1011" y="260" width="5" height="6" fill="#000"/>
<rect x="1012" y="261" width="3" height="4" fill="#fff"/>
<rect x="1021" y="223" width="1" height="45" fill="#000"/>
<rect x="1019" y="261" width="5" height="1" fill="#000"/>
<rect x="1029" y="252" width="1" height="50" fill="#000"/>
<rect x="1027" y="260" width="5" height="23" fill="#000"/>
<rect x="1037" y="274" width="1" height="65" fill="#000"/>
<rect x="1035" y="282" width="5" height="26" fill="#000"/>
<rect x="1045" y="270" width="1" height="9" fill="#000"/>
<rect x="1043" y="274" width="5" height="5" fill="#000"/>
<rect x="1053" y="233" width="1" height="54" fill="#000"/>
<rect x="1051" y="274" width="5" height="5" fill="#000"/>
<rect x="1052" y="275" width="3" height="3" fill="#fff"/>
<rect x="1061" y="226" width="1" height="63" fill="#000"/>
<rect x="1059" y="233" width="5" height="42" fill="#000"/>
<rect x="1060" y="234" width="3" height="40" fill="#fff"/>
<rect x="1069" y="197" width="1" height="42" fill="#000"/>
<rect x="1067" y="215" width="5" height="20" fill="#000"/>
<rect x="1068" y="216" width="3" height="18" fill="#fff"/>
<rect x="1077" y="174" width="1" height="45" fill="#000"/>
<rect x="1075" y="192" width="5" height="24" fill="#000"/>
<rect x="1076" y="193" width="3" height="22" fill="#fff"/>
<rect x="1085" y="191" width="1" height="36" fill="#000"/>
<rect x="1083" y="192" width="5" height="23" fill="#000"/>
<rect x="1093" y="236" width="1" height="16" fill="#000"/>
<rect x="1091" y="238" width="5" height="12" fill="#000"/>
<rect x="1101" y="216" width="1" height="104" fill="#000"/>
<rect x="1099" y="234" width="5" height="14" fill="#000"/>
<rect x="1100" y="235" width="3" height="12" fill="#fff"/>
<rect x="1109" y="229" width="1" height="54" fill="#000"/>
<rect x="1107" y="233" width="5" height="17" fill="#000"/>
<rect x="1117" y="192" width="1" height="67" fill="#000"/>
<rect x="1115" y="211" width="5" height="38" fill="#000"/>
<rect x="1116" y="212" width="3" height="36" fill="#fff"/>
<rect x="1125" y="176" width="1" height="39" fill="#000"/>
<rect x="1123" y="201" width="5" height="14" fill="#000"/>
<rect x="1124" y="202" width="3" height="12" fill="#fff"/>
<rect x="1133" y="191" width="1" height="11" fill="#000"/>
<rect x="1131" y="192" width="5" height="8" fill="#000"/>
<rect x="1132" y="193" width="3" height="6" fill="#fff"/>
<rect x="1141" y="190" width="1" height="51" fill="#000"/>
<rect x="1139" y="191" width="5" height="38" fill="#000"/>
<rect x="1149" y="208" width="1" height="23" fill="#000"/>
<rect x="1147" y="216" width="5" height="13" fill="#000"/>
<rect x="1148" y="217" width="3" height="11" fill="#fff"/>
<rect x="1157" y="172" width="1" height="47" fill="#000"/>
<rect x="1155" y="172" width="5" height="46" fill="#000"/>
<rect x="1156" y="173" width="3" height="44" fill="#fff"/>
<rect x="1165" y="153" width="1" height="30" fill="#000"/>
<rect x="1163" y="161" width="5" height="13" fill="#000"/>
<rect x="1164" y="162" width="3" height="11" fill="#fff"/>
<rect x="1173" y="154" width="1" height="11" fill="#000"/>
<rect x="1171" y="155" width="5" height="10" fill="#000"/>
<rect x="1172" y="156" width="3" height="8" fill="#fff"/>
<rect x="1181" y="147" width="1" height="56" fill="#000"/>
<rect x="1179" y="155" width="5" height="39" fill="#000"/>
<rect x="1189" y="168" width="1" height="31" fill="#000"/>
<rect x="1187" y="173" width="5" height="21" fill="#000"/>
<rect x="1188" y="174" width="3" height="19" fill="#fff"/>
<rect x="1197" y="158" width="1" height="46" fill="#000"/>
<rect x="1195" y="174" width="5" height="1" fill="#000"/>
<rect x="1205" y="171" width="1" height="34" fill="#000"/>
<rect x="1203" y="174" width="5" height="20" fill="#000"/>
<rect x="1213" y="170" width="1" height="34" fill="#000"/>
<rect x="1211" y="192" width="5" height="3" fill="#000"/>
<rect x="1221" y="195" width="1" height="19" fill="#000"/>
<rect x="1219" y="200" width="5" height="11" fill="#000"/>
<rect x="1229" y="204" width="1" height="29" fill="#000"/>
<rect x="1227" y="209" width="5" height="1" fill="#000"/>
<rect x="1237" y="158" width="1" height="57" fill="#000"/>
<rect x="1235" y="160" width="5" height="49" fill="#000"/>
<rect x="1236" y="161" width="3" height="47" fill="#fff"/>
<rect x="1245" y="148" width="1" height="32" fill="#000"/>
<rect x="1243" y="159" width="5" height="8" fill="#000"/>
<rect x="1253" y="145" width="1" height="33" fill="#000"/>
<rect x="1251" y="155" width="5" height="12" fill="#000"/>
<rect x="1252" y="156" width="3" height="10" fill="#fff"/>
<rect x="1261" y="149" width="1" height="43" fill="#000"/>
<rect x="1259" y="154" width="5" height="37" fill="#000"/>
<rect x="1269" y="183" width="1" height="11" fill="#000"/>
<rect x="1267" y="190" width="5" height="4" fill="#000"/>
<rect x="1277" y="185" width="1" height="25" fill="#000"/>
<rect x="1275" y="189" width="5" height="3" fill="#000"/>
<rect x="1276" y="190" width="3" height="1" fill="#fff"/>
<rect x="1285" y="166" width="1" height="24" fill="#000"/>
<rect x="1283" y="167" width="5" height="23" fill="#000"/>
<rect x="1284" y="168" width="3" height="21" fill="#fff"/>
<rect x="1293" y="142" width="1" height="34" fill="#000"/>
<rect x="1291" y="160" width="5" height="8" fill="#000"/>
<rect x="1292" y="161" width="3" height="6" fill="#fff"/>
<rect x="1301" y="133" width="1" height="31" fill="#000"/>
<rect x="1299" y="139" width="5" height="22" fill="#000"/>
<rect x="1300" y="140" width="3" height="20" fill="#fff"/>
<rect x="1309" y="138" width="1" height="34" fill="#000"/>
<rect x="1307" y="139" width="5" height="18" fill="#000"/>
<rect x="1317" y="151" width="1" height="8" fill="#000"/>
<rect x="1315" y="153" width="5" height="4" fill="#000"/>
<rect x="1316" y="154" width="3" height="2" fill="#fff"/>
<rect x="1325" y="141" width="1" height="26" fill="#000"/>
<rect x="1323" y="153" width="5" height="4" fill="#000"/>
<rect x="1333" y="134" width="1" height="47" fill="#000"/>
<rect x="1331" y="135" width="5" height="22" fill="#000"/>
<rect x="1332" y="136" width="3" height="20" fill="#fff"/>
<rect x="1341" y="130" width="1" height="33" fill="#000"/>
<rect x="1339" y="135" width="5" height="24" fill="#000"/>
<rect x="1349" y="133" width="1" height="41" fill="#000"/>
<rect x="1347" y="141" width="5" height="19" fill="#000"/>
<rect x="1348" y="142" width="3" height="17" fill="#fff"/>
<rect x="1357" y="131" width="1" height="33" fill="#000"/>
<rect x="1355" y="141" width="5" height="9" fill="#000"/>
<rect x="1365" y="147" width="1" height="5" fill="#000"/>
<rect x="1363" y="149" width="5" height="2" fill="#000"/>
<rect x="1373" y="129" width="1" height="35" fill="#000"/>
<rect x="1371" y="149" width="5" height="10" fill="#000"/>
<rect x="1381" y="145" width="1" height="35" fill="#000"/>
<rect x="1379" y="157" width="5" height="7" fill="#000"/>
<rect x="1389" y="154" width="1" height="23" fill="#000"/>
<rect x="1387" y="163" width="5" height="5" fill="#000"/>
<rect x="1397" y="149" width="1" height="46" fill="#000"/>
<rect x="1395" y="159" width="5" height="7" fill="#000"/>
<rect x="1396" y="160" width="3" height="5" fill="#fff"/>
<rect x="1405" y="135" width="1" height="26" fill="#000"/>
<rect x="1403" y="139" width="5" height="21" fill="#000"/>
<rect x="1404" y="140" width="3" height="19" fill="#fff"/>
<rect x="1413" y="136" width="1" height="7" fill="#000"/>
<rect x="1411" y="136" width="5" height="4" fill="#000"/>
<rect x="1412" y="137" width="3" height="2" fill="#fff"/>
<rect x="1421" y="132" width="1" height="25" fill="#000"/>
<rect x="1419" y="133" width="5" height="4" fill="#000"/>
<rect x="1420" y="134" width="3" height="2" fill="#fff"/>
<rect x="1429" y="108" width="1" height="28" fill="#000"/>
<rect x="1427" y="110" width="5" height="25" fill="#000"/>
<rect x="1428" y="111" width="3" height="23" fill="#fff"/>
<rect x="1437" y="93" width="1" height="23" fill="#000"/>
<rect x="1435" y="105" width="5" height="6" fill="#000"/>
<rect x="1436" y="106" width="3" height="4" fill="#fff"/>
<rect x="1445" y="95" width="1" height="22" fill="#000"/>
<rect x="1443" y="105" width="5" height="8" fill="#000"/>
<rect x="1453" y="94" width="1" height="31" fill="#000"/>
<rect x="1451" y="100" width="5" height="13" fill="#000"/>
<rect x="1452" y="101" width="3" height="11" fill="#fff"/>
<rect x="1461" y="92" width="1" height="7" fill="#000"/>
<rect x="1459" y="92" width="5" height="7" fill="#000"/>
<rect x="1460" y="93" width="3" height="5" fill="#fff"/>
<rect x="1469" y="75" width="1" height="19" fill="#000"/>
<rect x="1467" y="77" width="5" height="17" fill="#000"/>
<rect x="1468" y="78" width="3" height="15" fill="#fff"/>
<rect x="1477" y="65" width="1" height="29" fill="#000"/>
<rect x="1475" y="78" width="5" height="11" fill="#000"/>
<rect x="1485" y="81" width="1" height="26" fill="#000"/>
<rect x="1483" y="87" width="5" height="7" fill="#000"/>
<rect x="1493" y="53" width="1" height="50" fill="#000"/>
<rect x="1491" y="58" width="5" height="36" fill="#000"/>
<rect x="1492" y="59" width="3" height="34" fill="#fff"/>
</g>
<g clip-path="url(#cmacd)" shape-rendering="crispEdges">
<rect x="5" y="658" width="1" height="23" fill="#c0c0c0"/>
<rect x="13" y="658" width="1" height="23" fill="#c0c0c0"/>
<rect x="21" y="659" width="1" height="22" fill="#c0c0c0"/>
<rect x="29" y="661" width="1" height="20" fill="#c0c0c0"/>
<rect x="37" y="661" width="1" height="20" fill="#c0c0c0"/>
<rect x="45" y="658" width="1" height="23" fill="#c0c0c0"/>
<rect x="53" y="651" width="1" height="30" fill="#c0c0c0"/>
<rect x="61" y="647" width="1" height="34" fill="#c0c0c0"/>
<rect x="69" y="644" width="1" height="37" fill="#c0c0c0"/>
<rect x="77" y="639" width="1" height="42" fill="#c0c0c0"/>
<rect x="85" y="636" width="1" height="45" fill="#c0c0c0"/>
<rect x="93" y="629" width="1" height="52" fill="#c0c0c0"/>
<rect x="101" y="622" width="1" height="59" fill="#c0c0c0"/>
<rect x="109" y="615" width="1" height="66" fill="#c0c0c0"/>
<rect x="117" y="603" width="1" height="78" fill="#c0c0c0"/>
<rect x="125" y="595" width="1" height="86" fill="#c0c0c0"/>
<rect x="133" y="590" width="1" height="91" fill="#c0c0c0"/>
<rect x="141" y="589" width="1" height="92" fill="#c0c0c0"/>
<rect x="149" y="588" width="1" height="93" fill="#c0c0c0"/>
<rect x="157" y="587" width="1" height="94" fill="#c0c0c0"/>
<rect x="165" y="586" width="1" height="95" fill="#c0c0c0"/>
<rect x="173" y="591" width="1" height="90" fill="#c0c0c0"/>
<rect x="181" y="596" width="1" height="85" fill="#c0c0c0"/>
<rect x="189" y="599" width="1" height="82" fill="#c0c0c0"/>
<rect x="197" y="604" width="1" height="77" fill="#c0c0c0"/>
<rect x="205" y="609" width="1" height="72" fill="#c0c0c0"/>
<rect x="213" y="613" width="1" height="68" fill="#c0c0c0"/>
<rect x="221" y="615" width="1" height="66" fill="#c0c0c0"/>
<rect x="229" y="617" width="1" height="64" fill="#c0c0c0"/>
<rect x="237" y="619" width="1" height="62" fill="#c0c0c0"/>
<rect x="245" y="615" width="1" height="66" fill="#c0c0c0"/>
<rect x="253" y="619" width="1" height="62" fill="#c0c0c0"/>
<rect x="261" y="617" width="1" height="64" fill="#c0c0c0"/>
<rect x="269" y="623" width="1" height="58" fill="#c0c0c0"/>
<rect x="277" y="628" width="1" height="53" fill="#c0c0c0"/>
<rect x="285" y="634" width="1" height="47" fill="#c0c0c0"/>
<rect x="293" y="635" width="1" height="46" fill="#c0c0c0"/>
<rect x="301" y="633" width="1" height="48" fill="#c0c0c0"/>
<rect x="309" y="633" width="1" height="48" fill="#c0c0c0"/>
<rect x="317" y="627" width="1" height="54" fill="#c0c0c0"/>
<rect x="325" y="621" width="1" height="60" fill="#c0c0c0"/>
<rect x="333" y="618" width="1" height="63" fill="#c0c0c0"/>
<rect x="341" y="613" width="1" height="68" fill="#c0c0c0"/>
<rect x="349" y="614" width="1" height="67" fill="#c0c0c0"/>
<rect x="357" y="619" width="1" height="62" fill="#c0c0c0"/>
<rect x="365" y="622" width="1" height="59" fill="#c0c0c0"/>
<rect x="373" y="628" width="1" height="53" fill="#c0c0c0"/>
<rect x="381" y="637" width="1" height="44" fill="#c0c0c0"/>
<rect x="389" y="654" width="1" height="27" fill="#c0c0c0"/>
<rect x="397" y="666" width="1" height="15" fill="#c0c0c0"/>
<rect x="405" y="680" width="1" height="5" fill="#c0c0c0"/>
<rect x="413" y="680" width="1" height="20" fill="#c0c0c0"/>
<rect x="421" y="680" width="1" height="33" fill="#c0c0c0"/>
<rect x="429" y="680" width="1" height="38" fill="#c0c0c0"/>
<rect x="437" y="680" width="1" height="42" fill="#c0c0c0"/>
<rect x="445" y="680" width="1" height="40" fill="#c0c0c0"/>
<rect x="453" y="680" width="1" height="37" fill="#c0c0c0"/>
<rect x="461" y="680" width="1" height="37" fill="#c0c0c0"/>
<rect x="469" y="680" width="1" height="35" fill="#c0c0c0"/>
<rect x="477" y="680" width="1" height="41" fill="#c0c0c0"/>
<rect x="485" y="680" width="1" height="48" fill="#c0c0c0"/>
<rect x="493" y="680" width="1" height="54" fill="#c0c0c0"/>
<rect x="501" y="680" width="1" height="56" fill="#c0c0c0"/>
<rect x="509" y="680" width="1" height="59" fill="#c0c0c0"/>
<rect x="517" y="680" width="1" height="57" fill="#c0c0c0"/>
<rect x="525" y="680" width="1" height="51" fill="#c0c0c0"/>
<rect x="533" y="680" width="1" height="47" fill="#c0c0c0"/>
<rect x="541" y="680" width="1" height="40" fill="#c0c0c0"/>
<rect x="549" y="680" width="1" height="35" fill="#c0c0c0"/>
<rect x="557" y="680" width="1" height="29" fill="#c0c0c0"/>
<rect x="565" y="680" width="1" height="24" fill="#c0c0c0"/>
<rect x="573" y="680" width="1" height="16" fill="#c0c0c0"/>
<rect x="581" y="680" width="1" height="16" fill="#c0c0c0"/>
<rect x="589" y="680" width="1" height="13" fill="#c0c0c0"/>
<rect x="597" y="680" width="1" height="11" fill="#c0c0c0"/>
<rect x="605" y="680" width="1" height="3" fill="#c0c0c0"/>
<rect x="613" y="678" width="1" height="3" fill="#c0c0c0"/>
<rect x="621" y="672" width="1" height="9" fill="#c0c0c0"/>
<rect x="629" y="674" width="1" height="7" fill="#c0c0c0"/>
<rect x="637" y="672" width="1" height="9" fill="#c0c0c0"/>
<rect x="645" y="675" width="1" height="6" fill="#c0c0c0"/>
<rect x="653" y="677" width="1" height="4" fill="#c0c0c0"/>
<rect x="661" y="679" width="1" height="2" fill="#c0c0c0"/>
<rect x="669" y="679" width="1" height="2" fill="#c0c0c0"/>
<rect x="677" y="678" width="1" height="3" fill="#c0c0c0"/>
<rect x="685" y="670" width="1" height="11" fill="#c0c0c0"/>
<rect x="693" y="666" width="1" height="15" fill="#c0c0c0"/>
<rect x="701" y="665" width="1" height="16" fill="#c0c0c0"/>
<rect x="709" y="663" width="1" height="18" fill="#c0c0c0"/>
<rect x="717" y="664" width="1" height="17" fill="#c0c0c0"/>
<rect x="725" y="664" width="1" height="17" fill="#c0c0c0"/>
<rect x="733" y="666" width="1" height="15" fill="#c0c0c0"/>
<rect x="741" y="671" width="1" height="10" fill="#c0c0c0"/>
<rect x="749" y="674" width="1" height="7" fill="#c0c0c0"/>
<rect x="757" y="678" width="1" height="3" fill="#c0c0c0"/>
<rect x="765" y="680" width="1" height="2" fill="#c0c0c0"/>
<rect x="773" y="674" width="1" height="7" fill="#c0c0c0"/>
<rect x="781" y="675" width="1" height="6" fill="#c0c0c0"/>
<rect x="789" y="669" width="1" height="12" fill="#c0c0c0"/>
<rect x="797" y="662" width="1" height="19" fill="#c0c0c0"/>
<rect x="805" y="656" width="1" height="25" fill="#c0c0c0"/>
<rect x="813" y="653" width="1" height="28" fill="#c0c0c0"/>
<rect x="821" y="646" width="1" height="35" fill="#c0c0c0"/>
<rect x="829" y="642" width="1" height="39" fill="#c0c0c0"/>
<rect x="837" y="645" width="1" height="36" fill="#c0c0c0"/>
<rect x="845" y="645" width="1" height="36" fill="#c0c0c0"/>
<rect x="853" y="643" width="1" height="38" fill="#c0c0c0"/>
<rect x="861" y="642" width="1" height="39" fill="#c0c0c0"/>
<rect x="869" y="640" width="1" height="41" fill="#c0c0c0"/>
<rect x="877" y="639" width="1" height="42" fill="#c0c0c0"/>
<rect x="885" y="639" width="1" height="42" fill="#c0c0c0"/>
<rect x="893" y="638" width="1" height="43" fill="#c0c0c0"/>
<rect x="901" y="636" width="1" height="45" fill="#c0c0c0"/>
<rect x="909" y="634" width="1" height="47" fill="#c0c0c0"/>
<rect x="917" y="632" width="1" height="49" fill="#c0c0c0"/>
<rect x="925" y="629" width="1" height="52" fill="#c0c0c0"/>
<rect x="933" y="629" width="1" height="52" fill="#c0c0c0"/>
<rect x="941" y="632" width="1" height="49" fill="#c0c0c0"/>
<rect x="949" y="633" width="1" height="48" fill="#c0c0c0"/>
<rect x="957" y="635" width="1" height="46" fill="#c0c0c0"/>
<rect x="965" y="632" width="1" height="49" fill="#c0c0c0"/>
<rect x="973" y="634" width="1" height="47" fill="#c0c0c0"/>
<rect x="981" y="631" width="1" height="50" fill="#c0c0c0"/>
<rect x="989" y="630" width="1" height="51" fill="#c0c0c0"/>
<rect x="997" y="631" width="1" height="50" fill="#c0c0c0"/>
<rect x="1005" y="636" width="1" height="45" fill="#c0c0c0"/>
<rect x="1013" y="639" width="1" height="42" fill="#c0c0c0"/>
<rect x="1021" y="643" width="1" height="38" fill="#c0c0c0"/>
<rect x="1029" y="649" width="1" height="32" fill="#c0c0c0"/>
<rect x="1037" y="657" width="1" height="24" fill="#c0c0c0"/>
<rect x="1045" y="660" width="1" height="21" fill="#c0c0c0"/>
<rect x="1053" y="662" width="1" height="19" fill="#c0c0c0"/>
<rect x="1061" y="658" width="1" height="23" fill="#c0c0c0"/>
<rect x="1069" y="652" width="1" height="29" fill="#c0c0c0"/>
<rect x="1077" y="645" width="1" height="36" fill="#c0c0c0"/>
<rect x="1085" y="642" width="1" height="39" fill="#c0c0c0"/>
<rect x="1093" y="646" width="1" height="35" fill="#c0c0c0"/>
<rect x="1101" y="647" width="1" height="34" fill="#c0c0c0"/>
<rect x="1109" y="650" width="1" height="31" fill="#c0c0c0"/>
<rect x="1117" y="649" width="1" height="32" fill="#c0c0c0"/>
<rect x="1125" y="645" width="1" height="36" fill="#c0c0c0"/>
<rect x="1133" y="643" width="1" height="38" fill="#c0c0c0"/>
<rect x="1141" y="645" width="1" height="36" fill="#c0c0c0"/>
<rect x="1149" y="645" width="1" height="36" fill="#c0c0c0"/>
<rect x="1157" y="641" width="1" height="40" fill="#c0c0c0"/>
<rect x="1165" y="636" width="1" height="45" fill="#c0c0c0"/>
<rect x="1173" y="631" width="1" height="50" fill="#c0c0c0"/>
<rect x="1181" y="634" width="1" height="47" fill="#c0c0c0"/>
<rect x="1189" y="632" width="1" height="49" fill="#c0c0c0"/>
<rect x="1197" y="634" width="1" height="47" fill="#c0c0c0"/>
<rect x="1205" y="637" width="1" height="44" fill="#c0c0c0"/>
<rect x="1213" y="641" width="1" height="40" fill="#c0c0c0"/>
<rect x="1221" y="646" width="1" height="35" fill="#c0c0c0"/>
<rect x="1229" y="651" width="1" height="30" fill="#c0c0c0"/>
<rect x="1237" y="648" width="1" height="33" fill="#c0c0c0"/>
<rect x="1245" y="646" width="1" height="35" fill="#c0c0c0"/>
<rect x="1253" y="644" width="1" height="37" fill="#c0c0c0"/>
<rect x="1261" y="648" width="1" height="33" fill="#c0c0c0"/>
<rect x="1269" y="652" width="1" height="29" fill="#c0c0c0"/>
<rect x="1277" y="654" width="1" height="27" fill="#c0c0c0"/>
<rect x="1285" y="654" width="1" height="27" fill="#c0c0c0"/>
<rect x="1293" y="652" width="1" height="29" fill="#c0c0c0"/>
<rect x="1301" y="648" width="1" height="33" fill="#c0c0c0"/>
<rect x="1309" y="649" width="1" height="32" fill="#c0c0c0"/>
<rect x="1317" y="649" width="1" height="32" fill="#c0c0c0"/>
<rect x="1325" y="649" width="1" height="32" fill="#c0c0c0"/>
<rect x="1333" y="647" width="1" height="34" fill="#c0c0c0"/>
<rect x="1341" y="649" width="1" height="32" fill="#c0c0c0"/>
<rect x="1349" y="648" width="1" height="33" fill="#c0c0c0"/>
<rect x="1357" y="649" width="1" height="32" fill="#c0c0c0"/>
<rect x="1365" y="651" width="1" height="30" fill="#c0c0c0"/>
<rect x="1373" y="653" width="1" height="28" fill="#c0c0c0"/>
<rect x="1381" y="656" width="1" height="25" fill="#c0c0c0"/>
<rect x="1389" y="659" width="1" height="22" fill="#c0c0c0"/>
<rect x="1397" y="661" width="1" height="20" fill="#c0c0c0"/>
<rect x="1405" y="660" width="1" height="21" fill="#c0c0c0"/>
<rect x="1413" y="659" width="1" height="22" fill="#c0c0c0"/>
<rect x="1421" y="657" width="1" height="24" fill="#c0c0c0"/>
<rect x="1429" y="653" width="1" height="28" fill="#c0c0c0"/>
<rect x="1437" y="650" width="1" height="31" fill="#c0c0c0"/>
<rect x="1445" y="648" width="1" height="33" fill="#c0c0c0"/>
<rect x="1453" y="646" width="1" height="35" fill="#c0c0c0"/>
<rect x="1461" y="643" width="1" height="38" fill="#c0c0c0"/>
<rect x="1469" y="639" width="1" height="42" fill="#c0c0c0"/>
<rect x="1477" y="638" width="1" height="43" fill="#c0c0c0"/>
<rect x="1485" y="638" width="1" height="43" fill="#c0c0c0"/>
<rect x="1493" y="634" width="1" height="47" fill="#c0c0c0"/>
</g>
<g clip-path="url(#cmacd)"><polyline points="0.5,669.5 4.0,668.8 23.5,663.0 46.5,658.4 69.5,654.9 83.5,650.8 99.5,643.4 113.5,636.0 125.1,626.1 138.9,616.2 150.5,606.5 166.5,596.8 189.5,590.8 208.1,593.8 222.0,599.6 245.0,609.9 268.1,615.7 293.5,623.8 316.5,627.7 339.5,626.8 360.4,622.2 381.1,622.2 400.5,632.1 421.3,656.1 437.4,680.3 462.8,708.0 483.5,718.4 502.0,724.1 525.1,728.8 543.5,730.6 562.0,724.1 585.0,713.8 608.1,699.9 631.2,686.8 649.6,681.5 668.1,676.2 688.9,674.5 711.9,671.1 739.6,666.9 760.4,667.6 774.2,671.1 800.5,671.3 823.5,665.3 837.4,657.2 855.9,649.9 874.3,644.5 892.8,641.8 915.8,638.3 934.3,634.2 962.0,632.6 994.3,631.9 1019.6,634.2 1033.5,636.9 1051.9,644.5 1070.4,650.8 1095.8,651.5 1111.9,650.3 1130.4,645.7 1158.1,645.7 1181.1,641.6 1200.5,637.3 1223.5,636.9 1239.7,638.8 1258.2,642.9 1274.3,646.9 1292.8,649.9 1315.8,649.9 1343.5,649.2 1375.8,649.2 1396.6,652.2 1419.6,656.1 1438.1,656.8 1449.6,655.4 1461.2,652.6 1477.3,647.6 1493.5,643.9" fill="none" stroke="#ff0000" stroke-width="1" stroke-dasharray="3,3" shape-rendering="crispEdges"/></g>
<g shape-rendering="crispEdges">
<line x1="0" y1="784.5" x2="1687" y2="784.5" stroke="#c0c0c0" stroke-width="1" stroke-dasharray="3,3"/>
<line x1="0" y1="835.5" x2="1687" y2="835.5" stroke="#c0c0c0" stroke-width="1" stroke-dasharray="3,3"/>
<line x1="0" y1="896.5" x2="1687" y2="896.5" stroke="#c0c0c0" stroke-width="1" stroke-dasharray="3,3"/>
</g>
<g clip-path="url(#crsi)"><polyline points="0.5,827.9 5.5,826.9 13.5,823.9 21.5,828.8 29.5,827.9 37.5,827.9 45.5,814.7 53.5,806.6 61.5,808.0 69.5,806.6 77.5,801.1 85.5,799.7 93.5,791.6 101.5,788.2 109.5,784.0 117.5,777.8 125.5,780.8 133.5,781.7 141.5,786.6 149.5,786.6 157.5,783.6 165.5,782.6 173.5,804.3 181.5,804.3 189.5,802.0 197.5,807.8 205.5,809.4 213.5,806.6 221.5,803.2 229.5,802.0 237.5,801.6 245.5,787.0 253.5,817.0 261.5,807.8 269.5,826.9 277.5,826.9 285.5,829.7 293.5,820.9 301.5,814.0 309.5,816.3 317.5,804.8 325.5,803.4 333.5,803.4 341.5,800.9 349.5,810.1 357.5,822.8 365.5,820.0 373.5,826.2 381.5,836.6 389.5,856.2 397.5,852.8 405.5,865.5 413.5,866.6 421.5,864.3 429.5,860.2 437.5,854.6 445.5,845.4 453.5,844.0 461.5,848.2 469.5,847.7 477.5,856.9 485.5,863.2 493.5,865.5 501.5,860.2 509.5,862.0 517.5,856.9 525.5,841.7 533.5,843.1 541.5,837.1 549.5,840.1 557.5,833.9 565.5,834.8 573.5,826.9 581.5,840.8 589.5,836.6 597.5,833.9 605.5,822.8 613.5,823.9 621.5,820.0 629.5,837.8 637.5,828.6 645.5,840.8 653.5,837.8 661.5,838.9 669.5,835.5 677.5,834.8 685.5,817.0 693.5,823.9 701.5,828.6 709.5,826.9 717.5,832.0 725.5,830.2 733.5,835.5 741.5,842.4 749.5,838.9 757.5,842.4 765.5,843.5 773.5,820.0 781.5,837.8 789.5,822.8 797.5,820.0 805.5,818.6 813.5,820.9 821.5,813.1 829.5,817.7 837.5,829.2 845.5,823.9 853.5,820.9 861.5,820.9 869.5,817.7 877.5,818.6 885.5,818.6 893.5,815.9 901.5,814.0 909.5,811.3 917.5,808.5 925.5,806.2 933.5,811.3 941.5,820.9 949.5,817.7 957.5,816.6 965.5,807.1 973.5,817.7 981.5,808.9 989.5,810.1 997.5,815.4 1005.5,825.5 1013.5,825.1 1021.5,825.1 1029.5,834.8 1037.5,846.3 1045.5,833.9 1053.5,832.0 1061.5,818.2 1069.5,813.1 1077.5,806.2 1085.5,815.9 1093.5,830.2 1101.5,826.2 1109.5,831.6 1117.5,820.9 1125.5,817.7 1133.5,815.9 1141.5,829.2 1149.5,826.2 1157.5,815.4 1165.5,812.4 1173.5,810.8 1181.5,824.6 1189.5,820.0 1197.5,820.9 1205.5,827.4 1213.5,828.6 1221.5,833.9 1229.5,833.9 1237.5,817.7 1245.5,820.9 1253.5,817.7 1261.5,831.6 1269.5,833.2 1277.5,830.9 1285.5,823.2 1293.5,821.6 1301.5,814.7 1309.5,822.8 1317.5,821.6 1325.5,823.9 1333.5,815.9 1341.5,827.9 1349.5,820.9 1357.5,824.6 1365.5,826.2 1373.5,829.2 1381.5,832.0 1389.5,833.9 1397.5,829.7 1405.5,821.6 1413.5,819.3 1421.5,818.2 1429.5,809.4 1437.5,807.8 1445.5,811.7 1453.5,806.6 1461.5,804.3 1469.5,800.2 1477.5,807.8 1485.5,811.7 1493.5,800.9" fill="none" stroke="#1e90ff" stroke-width="1" shape-rendering="crispEdges"/></g>
<g shape-rendering="crispEdges" fill="#000">
<rect x="0" y="21" width="1688" height="1"/>
<rect x="0" y="574" width="1688" height="1"/>
<rect x="0" y="576" width="1688" height="1"/>
<rect x="0" y="746" width="1688" height="1"/>
<rect x="0" y="748" width="1688" height="1"/>
<rect x="0" y="922" width="1688" height="1"/>
<rect x="1687" y="21" width="1" height="554"/>
<rect x="1687" y="576" width="1" height="171"/>
<rect x="1687" y="748" width="1" height="175"/>
<rect x="1733" y="17" width="1" height="919" fill="#e8e8e8"/>
</g>
<g font-size="10" fill="#000">
<rect x="1688" y="143" width="3" height="1" fill="#000"/>
<text x="1693" y="147" textLength="33" lengthAdjust="spacingAndGlyphs">1.37190</text>
<rect x="1688" y="176" width="3" height="1" fill="#000"/>
<text x="1693" y="180" textLength="33" lengthAdjust="spacingAndGlyphs">1.36190</text>
<rect x="1688" y="209" width="3" height="1" fill="#000"/>
<text x="1693" y="213" textLength="33" lengthAdjust="spacingAndGlyphs">1.35190</text>
<rect x="1688" y="241" width="3" height="1" fill="#000"/>
<text x="1693" y="245" textLength="33" lengthAdjust="spacingAndGlyphs">1.34215</text>
<rect x="1688" y="274" width="3" height="1" fill="#000"/>
<text x="1693" y="278" textLength="33" lengthAdjust="spacingAndGlyphs">1.33215</text>
<rect x="1688" y="307" width="3" height="1" fill="#000"/>
<text x="1693" y="311" textLength="33" lengthAdjust="spacingAndGlyphs">1.32240</text>
<rect x="1688" y="340" width="3" height="1" fill="#000"/>
<text x="1693" y="344" textLength="33" lengthAdjust="spacingAndGlyphs">1.31240</text>
<rect x="1688" y="373" width="3" height="1" fill="#000"/>
<text x="1693" y="377" textLength="33" lengthAdjust="spacingAndGlyphs">1.30240</text>
<rect x="1688" y="406" width="3" height="1" fill="#000"/>
<text x="1693" y="410" textLength="33" lengthAdjust="spacingAndGlyphs">1.29265</text>
<rect x="1688" y="439" width="3" height="1" fill="#000"/>
<text x="1693" y="443" textLength="33" lengthAdjust="spacingAndGlyphs">1.28265</text>
<rect x="1688" y="472" width="3" height="1" fill="#000"/>
<text x="1693" y="476" textLength="33" lengthAdjust="spacingAndGlyphs">1.27290</text>
<rect x="1688" y="505" width="3" height="1" fill="#000"/>
<text x="1693" y="509" textLength="33" lengthAdjust="spacingAndGlyphs">1.26290</text>
<rect x="1688" y="538" width="3" height="1" fill="#000"/>
<text x="1693" y="542" textLength="33" lengthAdjust="spacingAndGlyphs">1.25290</text>
<rect x="1688" y="571" width="3" height="1" fill="#000"/>
<text x="1693" y="575" textLength="33" lengthAdjust="spacingAndGlyphs">1.24315</text>
<rect x="1688" y="110" width="3" height="1" fill="#000"/>
<text x="1693" y="114" textLength="33" lengthAdjust="spacingAndGlyphs">1.38165</text>
<rect x="1688" y="77" width="3" height="1" fill="#000"/>
<text x="1693" y="81" textLength="33" lengthAdjust="spacingAndGlyphs">1.39165</text>
<rect x="1688" y="44" width="3" height="1" fill="#000"/>
<text x="1693" y="48" textLength="33" lengthAdjust="spacingAndGlyphs">1.40165</text>
</g>
<g font-size="10" fill="#000">
<rect x="-3" y="923" width="1" height="3" fill="#000"/>
<text x="-3.5" y="935" textLength="46.5" lengthAdjust="spacingAndGlyphs">13 Jul 2020</text>
<rect x="61" y="923" width="1" height="3" fill="#000"/>
<text x="60.5" y="935" textLength="46.5" lengthAdjust="spacingAndGlyphs">22 Jul 2020</text>
<rect x="125" y="923" width="1" height="3" fill="#000"/>
<text x="124.5" y="935" textLength="46.5" lengthAdjust="spacingAndGlyphs">31 Jul 2020</text>
<rect x="189" y="923" width="1" height="3" fill="#000"/>
<text x="188.5" y="935" textLength="51.5" lengthAdjust="spacingAndGlyphs">10 Aug 2020</text>
<rect x="253" y="923" width="1" height="3" fill="#000"/>
<text x="252.5" y="935" textLength="51.5" lengthAdjust="spacingAndGlyphs">19 Aug 2020</text>
<rect x="317" y="923" width="1" height="3" fill="#000"/>
<text x="316.5" y="935" textLength="51.5" lengthAdjust="spacingAndGlyphs">28 Aug 2020</text>
<rect x="381" y="923" width="1" height="3" fill="#000"/>
<text x="380.5" y="935" textLength="46.5" lengthAdjust="spacingAndGlyphs">7 Sep 2020</text>
<rect x="445" y="923" width="1" height="3" fill="#000"/>
<text x="444.5" y="935" textLength="51.5" lengthAdjust="spacingAndGlyphs">16 Sep 2020</text>
<rect x="509" y="923" width="1" height="3" fill="#000"/>
<text x="508.5" y="935" textLength="51.5" lengthAdjust="spacingAndGlyphs">25 Sep 2020</text>
<rect x="573" y="923" width="1" height="3" fill="#000"/>
<text x="572.5" y="935" textLength="45.5" lengthAdjust="spacingAndGlyphs">5 Oct 2020</text>
<rect x="637" y="923" width="1" height="3" fill="#000"/>
<text x="636.5" y="935" textLength="50.5" lengthAdjust="spacingAndGlyphs">14 Oct 2020</text>
<rect x="701" y="923" width="1" height="3" fill="#000"/>
<text x="700.5" y="935" textLength="50.5" lengthAdjust="spacingAndGlyphs">23 Oct 2020</text>
<rect x="765" y="923" width="1" height="3" fill="#000"/>
<text x="764.5" y="935" textLength="48.5" lengthAdjust="spacingAndGlyphs">2 Nov 2020</text>
<rect x="829" y="923" width="1" height="3" fill="#000"/>
<text x="828.5" y="935" textLength="53.5" lengthAdjust="spacingAndGlyphs">11 Nov 2020</text>
<rect x="893" y="923" width="1" height="3" fill="#000"/>
<text x="892.5" y="935" textLength="53.5" lengthAdjust="spacingAndGlyphs">20 Nov 2020</text>
<rect x="957" y="923" width="1" height="3" fill="#000"/>
<text x="956.5" y="935" textLength="53.5" lengthAdjust="spacingAndGlyphs">30 Nov 2020</text>
<rect x="1021" y="923" width="1" height="3" fill="#000"/>
<text x="1020.5" y="935" textLength="47.5" lengthAdjust="spacingAndGlyphs">9 Dec 2020</text>
<rect x="1085" y="923" width="1" height="3" fill="#000"/>
<text x="1084.5" y="935" textLength="52.5" lengthAdjust="spacingAndGlyphs">18 Dec 2020</text>
<rect x="1149" y="923" width="1" height="3" fill="#000"/>
<text x="1148.5" y="935" textLength="52.5" lengthAdjust="spacingAndGlyphs">29 Dec 2020</text>
<rect x="1213" y="923" width="1" height="3" fill="#000"/>
<text x="1212.5" y="935" textLength="44.5" lengthAdjust="spacingAndGlyphs">8 Jan 2021</text>
<rect x="1277" y="923" width="1" height="3" fill="#000"/>
<text x="1276.5" y="935" textLength="49.5" lengthAdjust="spacingAndGlyphs">18 Jan 2021</text>
<rect x="1341" y="923" width="1" height="3" fill="#000"/>
<text x="1340.5" y="935" textLength="49.5" lengthAdjust="spacingAndGlyphs">27 Jan 2021</text>
<rect x="1405" y="923" width="1" height="3" fill="#000"/>
<text x="1404.5" y="935" textLength="46.5" lengthAdjust="spacingAndGlyphs">5 Feb 2021</text>
<rect x="1469" y="923" width="1" height="3" fill="#000"/>
<text x="1468.5" y="935" textLength="51.5" lengthAdjust="spacingAndGlyphs">15 Feb 2021</text>
</g>
<g clip-path="url(#cm)">
<rect x="-1.5" y="25.5" width="4" height="4" fill="#fff" stroke="#ff0000" stroke-width="1" shape-rendering="crispEdges"/>
<path d="M1495,22 L1504,22 L1499.5,26.5 Z" fill="#c0c0c0"/>
<g fill="#fff" shape-rendering="crispEdges">
<rect x="1682.5" y="25.5" width="4" height="4" stroke="#ff0000" stroke-width="1"/>
<rect x="1682.5" y="39.5" width="4" height="4" stroke="#ff4500" stroke-width="1"/>
<rect x="1682.5" y="83.5" width="4" height="4" stroke="#0000ff" stroke-width="1"/>
<rect x="1682.5" y="102.5" width="4" height="4" stroke="#0000ff" stroke-width="1"/>
</g>
<line x1="1109" y1="293.5" x2="1556" y2="47.5" stroke="#ff0000" stroke-width="3.5" shape-rendering="crispEdges"/>
<path d="M1566,42.5 L1553,44.5 L1557.5,52 Z" fill="#ff0000" stroke="#ff0000" stroke-width="1"/>
<rect x="1441" y="70" width="110" height="5" fill="#00ff00"/>
<g fill="none" stroke="#00ff00" stroke-width="1.1" stroke-linecap="square" stroke-linejoin="miter">
<g transform="translate(1535.5,95.5)"><path d="M7.9,0 L0.7,7.1"/><path d="M4.1,3.4 L16.1,2.4 L0.9,11.6"/><path d="M5.6,8.4 L8.4,10.4"/><path d="M14.2,6.4 L7.5,10.9"/><path d="M7.1,9.9 L17.2,10.4 L0.7,18.4"/><path d="M8.4,14.4 L12,16.2"/></g>
<g transform="translate(1557.5,95.5)"><path d="M7.8,0 L8.8,1.8"/><path d="M0.8,6.2 L0.8,3.4 L18,3.4 L17.2,6.2"/><path d="M6.7,5.2 L2.2,9.2"/><path d="M11.6,5.2 L17.4,9.2"/><path d="M3,10 L15.7,10"/><path d="M9.4,10 L9.4,17.2"/><path d="M0.4,17.4 L18.4,17.4"/></g>
<g transform="translate(1579.5,95.5)"><path d="M0.4,4.4 L6.4,4.1"/><path d="M3.4,0.4 L1.2,7.9 L6.4,7.6"/><path d="M4.5,5.6 L4.5,18.7"/><path d="M0.4,14.4 L6.9,12"/><path d="M8.2,3.7 L18,3.4"/><path d="M7.1,8.6 L18.7,8.2"/><path d="M13.1,0 L10.1,13.1 L16.1,12.2 L12,16.1"/><path d="M11.4,15.4 L15.9,18.4"/></g>
<g transform="translate(1601,95.5)"><path d="M0.7,4.9 L6.7,4.5"/><path d="M4.1,0 L4.1,18.4 L2.2,17.4"/><path d="M0.7,11.8 L7.1,9"/><path d="M18,0.4 L9.7,2.6 L9.7,11.6 L6.7,18.4"/><path d="M9.7,6.9 L18.7,6.9"/><path d="M14.2,6.9 L14.2,18.7"/></g>
<g transform="translate(1624,95.5)"><path d="M8.6,0 L8.6,6"/><path d="M8.6,2.8 L16.5,2.8"/><path d="M3.4,6.2 L14.6,6.2 L14.6,12.2 L3.4,12.2 Z"/><path d="M1.5,15.4 L0.4,18.4"/><path d="M5.6,15.4 L6.6,17.8"/><path d="M9.7,15 L11,17.8"/><path d="M14.2,14.2 L17,17.4"/></g>
</g>
</g>
<path d="M0,32 L3.5,27.5 L7,32 Z" fill="#000"/>
<text x="12" y="33" font-size="9.6" fill="#000" textLength="66.5" lengthAdjust="spacingAndGlyphs">GBPUSD-,Daily</text>
<text x="85.5" y="33" font-size="9.6" fill="#000" textLength="140" lengthAdjust="spacingAndGlyphs">1.38648 1.39846 1.38387 1.39695</text>
<defs><linearGradient id="gtop" x1="0" y1="0" x2="0" y2="1"><stop offset="0" stop-color="#5b5bff"/><stop offset="1" stop-color="#3737e6"/></linearGradient><linearGradient id="gbot" x1="0" y1="0" x2="0" y2="1"><stop offset="0" stop-color="#3434e4"/><stop offset="1" stop-color="#0000aa"/></linearGradient><linearGradient id="gbtn" x1="0" y1="0" x2="0" y2="1"><stop offset="0" stop-color="#f4f4f4"/><stop offset="0.45" stop-color="#e8e8e8"/><stop offset="0.5" stop-color="#d8d8d8"/><stop offset="1" stop-color="#d0d0d0"/></linearGradient></defs>
<rect x="0" y="40" width="221" height="66" fill="#fff"/>
<rect x="0" y="41" width="52" height="64" fill="#0000a0"/>
<rect x="0" y="65" width="109" height="40" fill="#0000a0"/>
<rect x="1" y="42" width="50" height="23" fill="url(#gtop)"/>
<rect x="1" y="66" width="107" height="38" fill="url(#gbot)"/>
<rect x="4" y="64" width="44" height="1" fill="#1010a0"/><rect x="4" y="65" width="44" height="1" fill="#8a8aff"/>
<rect x="167" y="41" width="52" height="64" fill="#0000a0"/>
<rect x="111" y="65" width="108" height="40" fill="#0000a0"/>
<rect x="168" y="42" width="50" height="23" fill="url(#gtop)"/>
<rect x="112" y="66" width="106" height="38" fill="url(#gbot)"/>
<rect x="171" y="64" width="44" height="1" fill="#1010a0"/><rect x="171" y="65" width="44" height="1" fill="#8a8aff"/>
<rect x="54.5" y="41.5" width="110" height="21" fill="#fff" stroke="#b8b8b8"/>
<rect x="55" y="42" width="19" height="20" fill="url(#gbtn)"/><rect x="74" y="42" width="1" height="20" fill="#c0c0c0"/>
<rect x="144" y="42" width="20" height="20" fill="url(#gbtn)"/><rect x="143" y="42" width="1" height="20" fill="#c0c0c0"/>
<path d="M62,50 L66,50 L64,52.5 Z" fill="#4060b0"/><path d="M152,53 L156,53 L154,50.5 Z" fill="#4060b0"/>
<text x="116" y="56" font-size="12" fill="#000" textLength="23.5" lengthAdjust="spacingAndGlyphs">1.00</text>
<text x="13" y="57" font-size="11" fill="#fff" textLength="25" lengthAdjust="spacingAndGlyphs">SELL</text>
<text x="180.5" y="57" font-size="11" fill="#fff" textLength="23.5" lengthAdjust="spacingAndGlyphs">BUY</text>
<text x="20.5" y="96" font-size="13" font-weight="bold" fill="#fff" textLength="23.3" lengthAdjust="spacingAndGlyphs">1.39</text>
<text x="47.5" y="96" font-size="34" fill="#fff" textLength="34.5" lengthAdjust="spacingAndGlyphs">69</text>
<text x="87.5" y="80" font-size="11" font-weight="bold" fill="#fff" textLength="6.3" lengthAdjust="spacingAndGlyphs">5</text>
<text x="130.5" y="96" font-size="13" font-weight="bold" fill="#fff" textLength="23.5" lengthAdjust="spacingAndGlyphs">1.39</text>
<text x="158.5" y="96" font-size="34" fill="#fff" textLength="34.3" lengthAdjust="spacingAndGlyphs">75</text>
<text x="198.5" y="80" font-size="11" font-weight="bold" fill="#fff" textLength="6.3" lengthAdjust="spacingAndGlyphs">1</text>
<rect x="1689" y="21" width="41" height="11" fill="#ff0000"/>
<text x="1693" y="30" font-size="10.5" fill="#fff" textLength="32.5" lengthAdjust="spacingAndGlyphs">1.40629</text>
<rect x="1689" y="35" width="41" height="11" fill="#ff4500"/>
<text x="1693" y="44" font-size="10.5" fill="#fff" textLength="32.5" lengthAdjust="spacingAndGlyphs">1.40219</text>
<rect x="1689" y="53" width="41" height="11" fill="#000000"/>
<text x="1693" y="62" font-size="10.5" fill="#fff" textLength="32.5" lengthAdjust="spacingAndGlyphs">1.39695</text>
<rect x="1689" y="62" width="41" height="11" fill="#32cd32"/>
<text x="1693" y="71" font-size="10.5" fill="#fff" textLength="32.5" lengthAdjust="spacingAndGlyphs">1.39392</text>
<rect x="1689" y="79" width="41" height="11" fill="#0000ff"/>
<text x="1693" y="88" font-size="10.5" fill="#fff" textLength="32.5" lengthAdjust="spacingAndGlyphs">1.38883</text>
<rect x="1689" y="98" width="41" height="11" fill="#0000ff"/>
<text x="1693" y="107" font-size="10.5" fill="#fff" textLength="32.5" lengthAdjust="spacingAndGlyphs">1.38314</text>
<text x="1.5" y="589" font-size="10" fill="#000" textLength="147" lengthAdjust="spacingAndGlyphs">MACD(12,26,9) 0.007550 0.006074</text>
<text x="1.5" y="761" font-size="10" fill="#000" textLength="67" lengthAdjust="spacingAndGlyphs">RSI(14) 71.2339</text>
<g font-size="10" fill="#000">
<text x="1692" y="587.5" textLength="27" lengthAdjust="spacingAndGlyphs">0.0165</text>
<text x="1692" y="684.5" textLength="17" lengthAdjust="spacingAndGlyphs">0.00</text>
<text x="1692" y="743.5" textLength="40" lengthAdjust="spacingAndGlyphs">-0.010571</text>
<rect x="1688" y="680" width="3" height="1" fill="#000"/>
<text x="1692" y="759.5" textLength="15" lengthAdjust="spacingAndGlyphs">100</text>
<text x="1692" y="788" textLength="10" lengthAdjust="spacingAndGlyphs">80</text>
<text x="1692" y="839" textLength="10" lengthAdjust="spacingAndGlyphs">50</text>
<text x="1692" y="900" textLength="10" lengthAdjust="spacingAndGlyphs">15</text>
<text x="1692" y="919" textLength="5" lengthAdjust="spacingAndGlyphs">0</text>
</g>
</svg></body></html>
